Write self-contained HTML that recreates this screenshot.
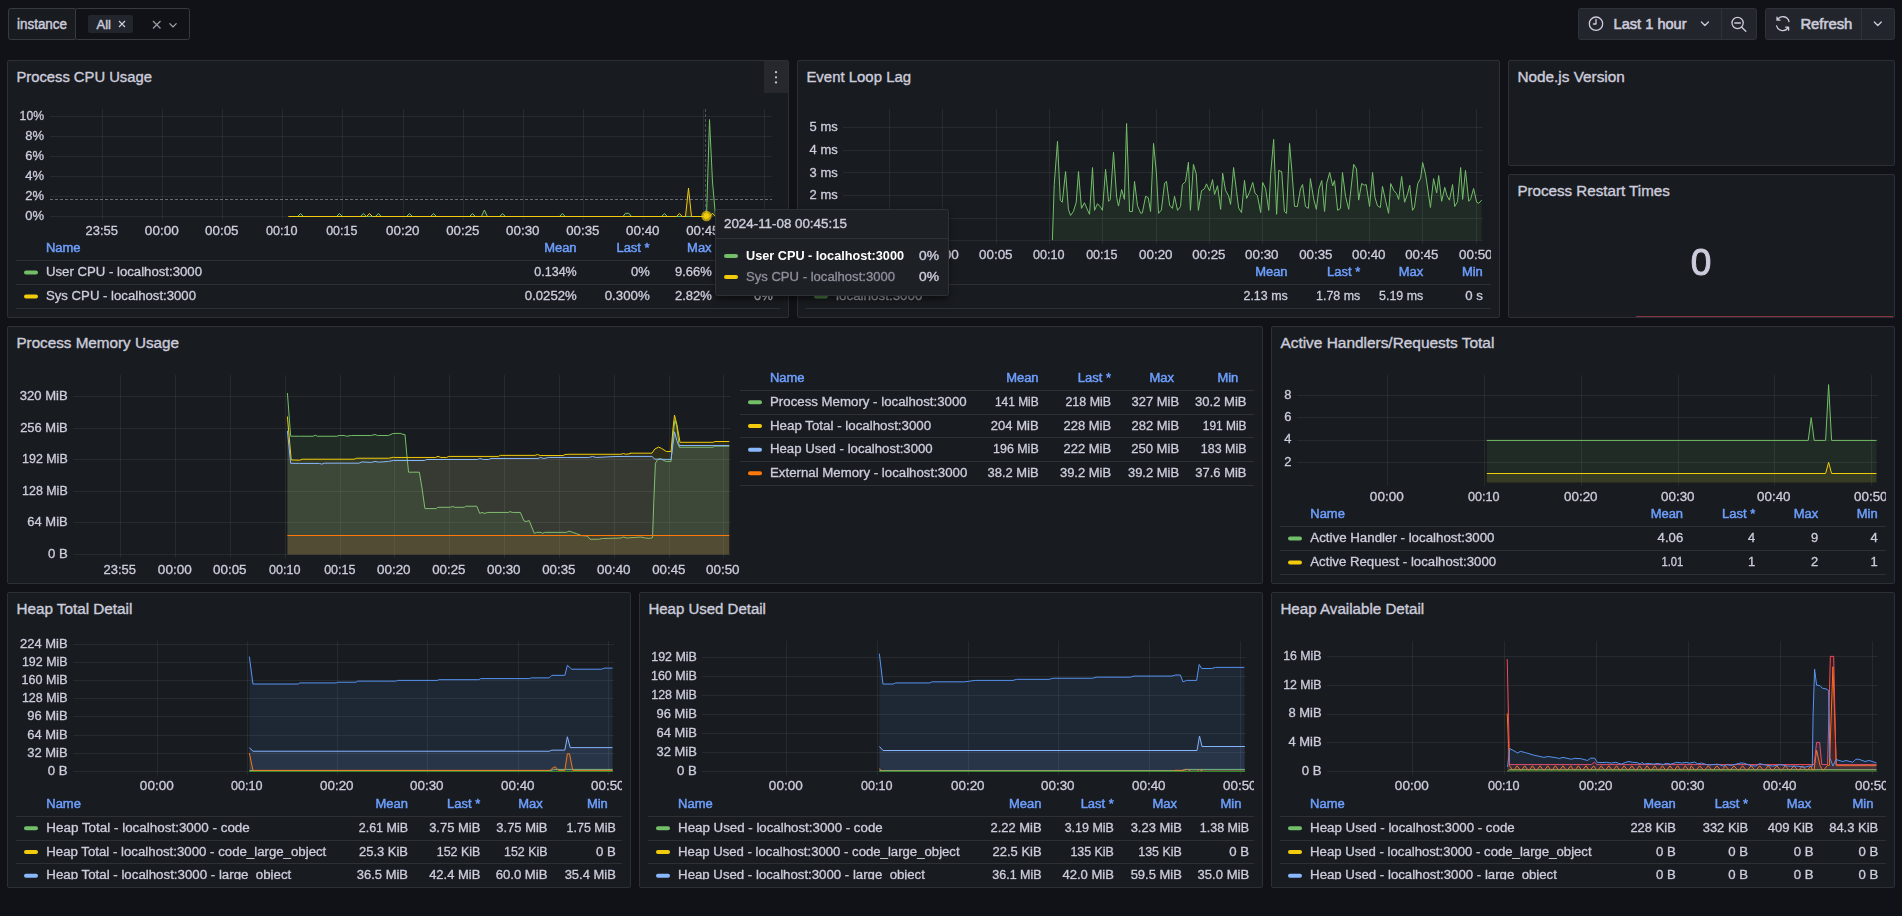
<!DOCTYPE html><html lang="en"><head><meta charset="utf-8"><title>Node.js Application Dashboard</title><style>

html,body{margin:0;padding:0;background:#111217;}
body{width:1902px;height:916px;overflow:hidden;position:relative;font-family:"Liberation Sans",sans-serif;color:#ccccdc;}
.p{position:absolute;box-sizing:border-box;background:#181b1f;border:1px solid #2c2f35;border-radius:2px;overflow:hidden;}
.p svg{position:absolute;left:-1px;top:-1px;}
svg text{font-family:"Liberation Sans",sans-serif;}
.ov{position:absolute;left:0;top:0;}
.gs{will-change:transform;}

</style></head><body>
<svg class="ov" width="1902" height="56" viewBox="0 0 1902 56"><rect x="8.5" y="8.5" width="67.5" height="31" rx="2" fill="#181b1f" stroke="#383a41"/><text x="17" y="29.2" font-size="14" fill="#ccccdc" stroke="#ccccdc" stroke-width="0.45" textLength="50" lengthAdjust="spacingAndGlyphs">instance</text><rect x="75.5" y="8.5" width="114" height="31" rx="2" fill="#111217" stroke="#383a41"/><rect x="88" y="15" width="45" height="18" rx="2" fill="#22252b"/><text x="96.5" y="28.6" font-size="12" fill="#ccccdc" stroke="#ccccdc" stroke-width="0.4" textLength="14.5" lengthAdjust="spacingAndGlyphs">All</text><path d="M119,21 l6,6 m0,-6 l-6,6" stroke="#ccccdc" stroke-width="1.2" fill="none"/><path d="M153,21 l7.5,7.5 m0,-7.5 l-7.5,7.5" stroke="#ccccdc" stroke-width="1.2" fill="none" stroke-opacity="0.75"/><path d="M169.5,23.4 l3.5,3.5 l3.5,-3.5" stroke="#ccccdc" stroke-width="1.3" fill="none" stroke-opacity="0.8"/><rect x="1578.5" y="8.5" width="178" height="31" rx="2" fill="#22252b" stroke="#2f3238"/><line x1="1721.5" x2="1721.5" y1="9" y2="39" stroke="#2f3238"/><rect x="1765.5" y="8.5" width="129" height="31" rx="2" fill="#22252b" stroke="#2f3238"/><line x1="1861.5" x2="1861.5" y1="9" y2="39" stroke="#2f3238"/><g fill="none" stroke="#ccccdc" stroke-width="1.3" stroke-linecap="round" stroke-linejoin="round"><circle cx="1596" cy="23.7" r="6.7"/><path d="M1596,19.5 v4.5 h-2.6"/><path d="M1701.4,22 l3.5,3.5 l3.5,-3.5"/><circle cx="1737.6" cy="23" r="5.6"/><path d="M1741.8,27.2 l4,4 M1734.8,23 h5.6"/><path d="M1789,21.5 a6.3,6.3 0 0 0 -11.6,-1.6 M1777,17.2 v3 h3 M1776.6,25.8 a6.3,6.3 0 0 0 11.6,1.6 M1788.6,30.2 v-3 h-3"/><path d="M1874.3,22 l3.5,3.5 l3.5,-3.5"/></g><text x="1613.6" y="28.8" font-size="14" fill="#ccccdc" stroke="#ccccdc" stroke-width="0.55" textLength="73" lengthAdjust="spacingAndGlyphs">Last 1 hour</text><text x="1800.4" y="28.8" font-size="14" fill="#ccccdc" stroke="#ccccdc" stroke-width="0.55" textLength="52" lengthAdjust="spacingAndGlyphs">Refresh</text></svg>
<div class="p" style="left:7px;top:60px;width:782px;height:258px"><svg width="782" height="36" viewBox="7 60 782 36"><text x="16.4" y="82" font-size="14" fill="#ccccdc" stroke="#ccccdc" stroke-width="0.35" textLength="135.5" lengthAdjust="spacingAndGlyphs">Process CPU Usage</text></svg><svg class="gs" width="782" height="258" viewBox="7 60 782 258"><g stroke="rgba(240,250,255,0.065)" stroke-width="1" shape-rendering="crispEdges"><line x1="50" x2="772" y1="116.5" y2="116.5"/><line x1="50" x2="772" y1="136.5" y2="136.5"/><line x1="50" x2="772" y1="156.5" y2="156.5"/><line x1="50" x2="772" y1="176.5" y2="176.5"/><line x1="50" x2="772" y1="196.5" y2="196.5"/><line x1="50" x2="772" y1="216.5" y2="216.5"/><line x1="102.5" x2="102.5" y1="109" y2="220"/><line x1="162.5" x2="162.5" y1="109" y2="220"/><line x1="222.5" x2="222.5" y1="109" y2="220"/><line x1="282.5" x2="282.5" y1="109" y2="220"/><line x1="342.5" x2="342.5" y1="109" y2="220"/><line x1="403.5" x2="403.5" y1="109" y2="220"/><line x1="463.5" x2="463.5" y1="109" y2="220"/><line x1="523.5" x2="523.5" y1="109" y2="220"/><line x1="583.5" x2="583.5" y1="109" y2="220"/><line x1="643.5" x2="643.5" y1="109" y2="220"/><line x1="703.5" x2="703.5" y1="109" y2="220"/><line x1="764.5" x2="764.5" y1="109" y2="220"/></g><path d="M288.5,216.5 L297.5,216.5 L300.5,213.5 L303.5,216.5 L336.5,216.5 L339.5,213.5 L342.5,216.5 L360.4,216.5 L363.4,213.5 L366.4,216.5 L375.4,216.5 L378.4,213.5 L381.4,216.5 L406.5,216.5 L409.5,213.5 L412.5,216.5 L430.5,216.5 L433.5,213.5 L436.5,216.5 L469.5,216.5 L472.5,213.5 L475.5,216.5 L481.4,216.5 L484.4,210 L487.4,216.5 L499.6,216.5 L502.6,213.5 L505.6,216.5 L559.4,216.5 L562.4,213.5 L565.4,216.5 L622.95,216.5 L625.45,213.3 L628.95,213.3 L631.45,216.5 L661.4,216.5 L664.4,213.5 L667.4,216.5 L706.5,216.5 L709.5,119.5 L712.5,182 L715.5,216.5 L770,216.5 L770,216.5 L288.5,216.5 Z" fill="#73bf69" fill-opacity="0.1" stroke="none"/><path d="M288.5,216.5 L297.5,216.5 L300.5,213.5 L303.5,216.5 L336.5,216.5 L339.5,213.5 L342.5,216.5 L360.4,216.5 L363.4,213.5 L366.4,216.5 L375.4,216.5 L378.4,213.5 L381.4,216.5 L406.5,216.5 L409.5,213.5 L412.5,216.5 L430.5,216.5 L433.5,213.5 L436.5,216.5 L469.5,216.5 L472.5,213.5 L475.5,216.5 L481.4,216.5 L484.4,210 L487.4,216.5 L499.6,216.5 L502.6,213.5 L505.6,216.5 L559.4,216.5 L562.4,213.5 L565.4,216.5 L622.95,216.5 L625.45,213.3 L628.95,213.3 L631.45,216.5 L661.4,216.5 L664.4,213.5 L667.4,216.5 L706.5,216.5 L709.5,119.5 L712.5,182 L715.5,216.5 L770,216.5" fill="none" stroke="#73bf69" stroke-width="1" stroke-linejoin="round"/><path d="M288.5,216.5 L366.5,216.5 L369.5,213.5 L372.5,216.5 L676.4,216.5 L679.4,213.5 L682.4,216.5 L685.5,216.5 L688.5,188.1 L691.5,216.5 L709.5,216.5 L712.5,213.2 L715.5,216.5 L770,216.5 L770,216.5 L288.5,216.5 Z" fill="#f2cc0c" fill-opacity="0.1" stroke="none"/><path d="M288.5,216.5 L366.5,216.5 L369.5,213.5 L372.5,216.5 L676.4,216.5 L679.4,213.5 L682.4,216.5 L685.5,216.5 L688.5,188.1 L691.5,216.5 L709.5,216.5 L712.5,213.2 L715.5,216.5 L770,216.5" fill="none" stroke="#f2cc0c" stroke-width="1" stroke-linejoin="round"/><g stroke="#a0a0ac" stroke-width="1" stroke-dasharray="3 2" shape-rendering="crispEdges"><line x1="705.5" x2="705.5" y1="109" y2="220" stroke-opacity="0.42"/><line x1="50" x2="772" y1="199.5" y2="199.5" stroke-opacity="0.6"/></g><circle cx="706.5" cy="216" r="5.2" fill="#f2cc0c" fill-opacity="0.7"/><circle cx="706.5" cy="216" r="3" fill="#f2cc0c"/><rect x="764" y="61" width="24" height="32" fill="#26282e"/><g fill="#ccccdc"><circle cx="776" cy="72.2" r="1.1"/><circle cx="776" cy="77.3" r="1.1"/><circle cx="776" cy="82.4" r="1.1"/></g><text x="46" y="252" font-size="12" fill="#6e9fff" stroke="#6e9fff" stroke-width="0.45" textLength="34.57" lengthAdjust="spacingAndGlyphs">Name</text><text x="576.6" y="252" font-size="12" fill="#6e9fff" text-anchor="end" stroke="#6e9fff" stroke-width="0.45" textLength="32.42" lengthAdjust="spacingAndGlyphs">Mean</text><text x="649.6" y="252" font-size="12" fill="#6e9fff" text-anchor="end" stroke="#6e9fff" stroke-width="0.45" textLength="33.14" lengthAdjust="spacingAndGlyphs">Last *</text><text x="711.6" y="252" font-size="12" fill="#6e9fff" text-anchor="end" stroke="#6e9fff" stroke-width="0.45" textLength="24.48" lengthAdjust="spacingAndGlyphs">Max</text><text x="772.6" y="252" font-size="12" fill="#6e9fff" text-anchor="end" stroke="#6e9fff" stroke-width="0.45" textLength="20.88" lengthAdjust="spacingAndGlyphs">Min</text><g stroke="rgba(204,204,220,0.12)" stroke-width="1" shape-rendering="crispEdges"><line x1="16" x2="780" y1="260.5" y2="260.5"/><line x1="16" x2="780" y1="284.5" y2="284.5"/><line x1="16" x2="780" y1="308.5" y2="308.5"/></g><rect x="24" y="270.5" width="14" height="4" rx="2" fill="#73bf69"/><text x="46" y="276" font-size="12" fill="#ccccdc" stroke="#ccccdc" stroke-width="0.3" textLength="156" lengthAdjust="spacingAndGlyphs">User CPU - localhost:3000</text><text x="576.7" y="276" font-size="12" fill="#ccccdc" text-anchor="end" stroke="#ccccdc" stroke-width="0.3" textLength="42.4" lengthAdjust="spacingAndGlyphs">0.134%</text><text x="649.7" y="276" font-size="12" fill="#ccccdc" text-anchor="end" stroke="#ccccdc" stroke-width="0.3" textLength="18.73" lengthAdjust="spacingAndGlyphs">0%</text><text x="711.7" y="276" font-size="12" fill="#ccccdc" text-anchor="end" stroke="#ccccdc" stroke-width="0.3" textLength="36.75" lengthAdjust="spacingAndGlyphs">9.66%</text><text x="772.7" y="276" font-size="12" fill="#ccccdc" text-anchor="end" stroke="#ccccdc" stroke-width="0.3" textLength="18.73" lengthAdjust="spacingAndGlyphs">0%</text><rect x="24" y="294.5" width="14" height="4" rx="2" fill="#f2cc0c"/><text x="46" y="300" font-size="12" fill="#ccccdc" stroke="#ccccdc" stroke-width="0.3" textLength="150" lengthAdjust="spacingAndGlyphs">Sys CPU - localhost:3000</text><text x="576.7" y="300" font-size="12" fill="#ccccdc" text-anchor="end" stroke="#ccccdc" stroke-width="0.3" textLength="51.86" lengthAdjust="spacingAndGlyphs">0.0252%</text><text x="649.7" y="300" font-size="12" fill="#ccccdc" text-anchor="end" stroke="#ccccdc" stroke-width="0.3" textLength="45" lengthAdjust="spacingAndGlyphs">0.300%</text><text x="711.7" y="300" font-size="12" fill="#ccccdc" text-anchor="end" stroke="#ccccdc" stroke-width="0.3" textLength="36.75" lengthAdjust="spacingAndGlyphs">2.82%</text><text x="772.7" y="300" font-size="12" fill="#ccccdc" text-anchor="end" stroke="#ccccdc" stroke-width="0.3" textLength="18.73" lengthAdjust="spacingAndGlyphs">0%</text></svg><svg class="gs" width="773" height="258" viewBox="7 60 773 258"><text x="44" y="119.9" font-size="12" fill="#ccccdc" text-anchor="end" stroke="#ccccdc" stroke-width="0.3" textLength="24.39" lengthAdjust="spacingAndGlyphs">10%</text><text x="44" y="139.9" font-size="12" fill="#ccccdc" text-anchor="end" stroke="#ccccdc" stroke-width="0.3" textLength="18.73" lengthAdjust="spacingAndGlyphs">8%</text><text x="44" y="159.9" font-size="12" fill="#ccccdc" text-anchor="end" stroke="#ccccdc" stroke-width="0.3" textLength="18.73" lengthAdjust="spacingAndGlyphs">6%</text><text x="44" y="179.9" font-size="12" fill="#ccccdc" text-anchor="end" stroke="#ccccdc" stroke-width="0.3" textLength="18.73" lengthAdjust="spacingAndGlyphs">4%</text><text x="44" y="199.9" font-size="12" fill="#ccccdc" text-anchor="end" stroke="#ccccdc" stroke-width="0.3" textLength="18.73" lengthAdjust="spacingAndGlyphs">2%</text><text x="44" y="219.9" font-size="12" fill="#ccccdc" text-anchor="end" stroke="#ccccdc" stroke-width="0.3" textLength="18.73" lengthAdjust="spacingAndGlyphs">0%</text><text x="101.8" y="235" font-size="12" fill="#ccccdc" text-anchor="middle" stroke="#ccccdc" stroke-width="0.3" textLength="32.43" lengthAdjust="spacingAndGlyphs">23:55</text><text x="161.8" y="235" font-size="12" fill="#ccccdc" text-anchor="middle" stroke="#ccccdc" stroke-width="0.3" textLength="33.83" lengthAdjust="spacingAndGlyphs">00:00</text><text x="221.8" y="235" font-size="12" fill="#ccccdc" text-anchor="middle" stroke="#ccccdc" stroke-width="0.3" textLength="33.48" lengthAdjust="spacingAndGlyphs">00:05</text><text x="281.8" y="235" font-size="12" fill="#ccccdc" text-anchor="middle" stroke="#ccccdc" stroke-width="0.3" textLength="31.58" lengthAdjust="spacingAndGlyphs">00:10</text><text x="341.8" y="235" font-size="12" fill="#ccccdc" text-anchor="middle" stroke="#ccccdc" stroke-width="0.3" textLength="31.23" lengthAdjust="spacingAndGlyphs">00:15</text><text x="402.8" y="235" font-size="12" fill="#ccccdc" text-anchor="middle" stroke="#ccccdc" stroke-width="0.3" textLength="33.48" lengthAdjust="spacingAndGlyphs">00:20</text><text x="462.8" y="235" font-size="12" fill="#ccccdc" text-anchor="middle" stroke="#ccccdc" stroke-width="0.3" textLength="33.13" lengthAdjust="spacingAndGlyphs">00:25</text><text x="522.8" y="235" font-size="12" fill="#ccccdc" text-anchor="middle" stroke="#ccccdc" stroke-width="0.3" textLength="33.48" lengthAdjust="spacingAndGlyphs">00:30</text><text x="582.8" y="235" font-size="12" fill="#ccccdc" text-anchor="middle" stroke="#ccccdc" stroke-width="0.3" textLength="33.13" lengthAdjust="spacingAndGlyphs">00:35</text><text x="642.8" y="235" font-size="12" fill="#ccccdc" text-anchor="middle" stroke="#ccccdc" stroke-width="0.3" textLength="33.48" lengthAdjust="spacingAndGlyphs">00:40</text><text x="702.8" y="235" font-size="12" fill="#ccccdc" text-anchor="middle" stroke="#ccccdc" stroke-width="0.3" textLength="33.13" lengthAdjust="spacingAndGlyphs">00:45</text><text x="763.8" y="235" font-size="12" fill="#ccccdc" text-anchor="middle" stroke="#ccccdc" stroke-width="0.3" textLength="33.48" lengthAdjust="spacingAndGlyphs">00:50</text></svg></div>
<div class="p" style="left:797px;top:60px;width:703px;height:258px"><svg width="703" height="36" viewBox="797 60 703 36"><text x="806.4" y="82" font-size="14" fill="#ccccdc" stroke="#ccccdc" stroke-width="0.35" textLength="104.7" lengthAdjust="spacingAndGlyphs">Event Loop Lag</text></svg><svg class="gs" width="703" height="258" viewBox="797 60 703 258"><g stroke="rgba(240,250,255,0.065)" stroke-width="1" shape-rendering="crispEdges"><line x1="843" x2="1483" y1="240.5" y2="240.5"/><line x1="843" x2="1483" y1="218.5" y2="218.5"/><line x1="843" x2="1483" y1="195.5" y2="195.5"/><line x1="843" x2="1483" y1="172.5" y2="172.5"/><line x1="843" x2="1483" y1="150.5" y2="150.5"/><line x1="843" x2="1483" y1="127.5" y2="127.5"/><line x1="889.5" x2="889.5" y1="109" y2="244"/><line x1="942.5" x2="942.5" y1="109" y2="244"/><line x1="996.5" x2="996.5" y1="109" y2="244"/><line x1="1049.5" x2="1049.5" y1="109" y2="244"/><line x1="1102.5" x2="1102.5" y1="109" y2="244"/><line x1="1156.5" x2="1156.5" y1="109" y2="244"/><line x1="1209.5" x2="1209.5" y1="109" y2="244"/><line x1="1262.5" x2="1262.5" y1="109" y2="244"/><line x1="1316.5" x2="1316.5" y1="109" y2="244"/><line x1="1369.5" x2="1369.5" y1="109" y2="244"/><line x1="1422.5" x2="1422.5" y1="109" y2="244"/><line x1="1476.5" x2="1476.5" y1="109" y2="244"/></g><g clip-path="url(#c2)"><clipPath id="c2"><rect x="797" y="60" width="694" height="258"/></clipPath></g><path d="M1052.38,240.14 L1054.22,184.52 L1057.49,141.25 L1060.32,200.13 L1062.31,202.26 L1065.57,171.47 L1068.41,209.36 L1070.54,215.46 L1073.38,211.48 L1076.22,202.26 L1078.49,171.47 L1081.47,208.36 L1084.44,202.69 L1087.57,210.06 L1089.55,214.32 L1092.53,167.5 L1094.52,210.35 L1097.5,203.68 L1100.62,207.23 L1102.46,210.35 L1105.59,169.34 L1108.57,201.27 L1110.27,199.42 L1113.53,152.32 L1116.65,197.29 L1118.5,206.09 L1121.62,189.49 L1124.46,199.42 L1126.59,123.51 L1129.57,211.48 L1132.4,211.48 L1134.53,181.4 L1137.51,205.81 L1140.77,213.33 L1142.33,212.9 L1145.6,196.3 L1148.29,197.72 L1150.56,211.48 L1153.54,143.38 L1156.38,172.46 L1158.51,213.33 L1161.35,210.06 L1164.61,183.11 L1166.46,181.4 L1169.58,205.1 L1172.42,208.36 L1174.54,196.3 L1177.52,210.35 L1180.5,206.52 L1182.35,184.52 L1185.47,181.69 L1188.45,162.25 L1190.43,210.35 L1193.41,164.38 L1196.25,173.88 L1198.38,210.35 L1201.5,190.63 L1204.48,188.78 L1206.47,183.82 L1209.59,190.91 L1212.57,179.56 L1214.56,194.46 L1217.54,185.66 L1220.66,209.36 L1222.64,173.17 L1225.48,190.2 L1228.6,195.88 L1230.59,204.39 L1233.57,167.5 L1236.55,191.62 L1238.68,207.94 L1241.51,212.62 L1244.49,180.27 L1246.62,198.43 L1249.46,192.33 L1252.72,182.4 L1254.99,193.04 L1257.41,195.59 L1260.67,212.62 L1262.66,182.4 L1265.64,188.78 L1268.76,210.35 L1270.6,174.59 L1273.66,139.4 L1276.63,214.32 L1278.76,170.34 L1281.74,171.76 L1284.44,211.48 L1286.57,213.33 L1289.55,143.38 L1291.96,171.76 L1294.51,206.23 L1297.35,206.52 L1300.47,188.78 L1302.6,184.52 L1305.44,206.52 L1308.42,208.36 L1310.4,178.57 L1313.67,198.71 L1316.36,209.36 L1318.92,188.78 L1321.76,180.55 L1324.59,211.48 L1326.72,183.11 L1329.7,172.46 L1332.68,185.94 L1334.52,180.55 L1337.65,210.35 L1340.48,208.36 L1342.47,172.46 L1345.59,196.59 L1348.71,209.36 L1350.84,190.2 L1353.68,164.38 L1356.52,168.92 L1358.65,200.13 L1361.63,183.53 L1364.32,185.23 L1366.17,184.52 L1369.57,206.52 L1372.55,172.46 L1374.96,197.29 L1377.52,205.81 L1380.35,207.51 L1382.48,186.37 L1385.6,200.84 L1388.58,213.33 L1390.71,183.53 L1393.69,190.2 L1396.67,193.75 L1398.66,199.42 L1401.64,176.44 L1404.62,202.26 L1407.6,193.75 L1409.73,185.23 L1412.56,210.35 L1414.41,207.23 L1417.67,183.82 L1420.65,178.14 L1422.64,162.53 L1425.62,174.59 L1430.44,207.51 L1433.56,178.57 L1436.68,193.04 L1438.67,175.59 L1441.65,201.27 L1444.77,187.36 L1447.04,195.88 L1449.45,200.13 L1452.58,184.52 L1454.7,206.52 L1457.54,201.55 L1460.66,167.5 L1462.65,199.42 L1465.49,170.34 L1468.75,201.27 L1470.74,198.71 L1473.57,188.5 L1476.7,202.26 L1478.68,203.25 L1481.66,200.13 L1481.66,240.5 L1052.38,240.5 Z" fill="#73bf69" fill-opacity="0.1" stroke="none"/><path d="M1052.38,240.14 L1054.22,184.52 L1057.49,141.25 L1060.32,200.13 L1062.31,202.26 L1065.57,171.47 L1068.41,209.36 L1070.54,215.46 L1073.38,211.48 L1076.22,202.26 L1078.49,171.47 L1081.47,208.36 L1084.44,202.69 L1087.57,210.06 L1089.55,214.32 L1092.53,167.5 L1094.52,210.35 L1097.5,203.68 L1100.62,207.23 L1102.46,210.35 L1105.59,169.34 L1108.57,201.27 L1110.27,199.42 L1113.53,152.32 L1116.65,197.29 L1118.5,206.09 L1121.62,189.49 L1124.46,199.42 L1126.59,123.51 L1129.57,211.48 L1132.4,211.48 L1134.53,181.4 L1137.51,205.81 L1140.77,213.33 L1142.33,212.9 L1145.6,196.3 L1148.29,197.72 L1150.56,211.48 L1153.54,143.38 L1156.38,172.46 L1158.51,213.33 L1161.35,210.06 L1164.61,183.11 L1166.46,181.4 L1169.58,205.1 L1172.42,208.36 L1174.54,196.3 L1177.52,210.35 L1180.5,206.52 L1182.35,184.52 L1185.47,181.69 L1188.45,162.25 L1190.43,210.35 L1193.41,164.38 L1196.25,173.88 L1198.38,210.35 L1201.5,190.63 L1204.48,188.78 L1206.47,183.82 L1209.59,190.91 L1212.57,179.56 L1214.56,194.46 L1217.54,185.66 L1220.66,209.36 L1222.64,173.17 L1225.48,190.2 L1228.6,195.88 L1230.59,204.39 L1233.57,167.5 L1236.55,191.62 L1238.68,207.94 L1241.51,212.62 L1244.49,180.27 L1246.62,198.43 L1249.46,192.33 L1252.72,182.4 L1254.99,193.04 L1257.41,195.59 L1260.67,212.62 L1262.66,182.4 L1265.64,188.78 L1268.76,210.35 L1270.6,174.59 L1273.66,139.4 L1276.63,214.32 L1278.76,170.34 L1281.74,171.76 L1284.44,211.48 L1286.57,213.33 L1289.55,143.38 L1291.96,171.76 L1294.51,206.23 L1297.35,206.52 L1300.47,188.78 L1302.6,184.52 L1305.44,206.52 L1308.42,208.36 L1310.4,178.57 L1313.67,198.71 L1316.36,209.36 L1318.92,188.78 L1321.76,180.55 L1324.59,211.48 L1326.72,183.11 L1329.7,172.46 L1332.68,185.94 L1334.52,180.55 L1337.65,210.35 L1340.48,208.36 L1342.47,172.46 L1345.59,196.59 L1348.71,209.36 L1350.84,190.2 L1353.68,164.38 L1356.52,168.92 L1358.65,200.13 L1361.63,183.53 L1364.32,185.23 L1366.17,184.52 L1369.57,206.52 L1372.55,172.46 L1374.96,197.29 L1377.52,205.81 L1380.35,207.51 L1382.48,186.37 L1385.6,200.84 L1388.58,213.33 L1390.71,183.53 L1393.69,190.2 L1396.67,193.75 L1398.66,199.42 L1401.64,176.44 L1404.62,202.26 L1407.6,193.75 L1409.73,185.23 L1412.56,210.35 L1414.41,207.23 L1417.67,183.82 L1420.65,178.14 L1422.64,162.53 L1425.62,174.59 L1430.44,207.51 L1433.56,178.57 L1436.68,193.04 L1438.67,175.59 L1441.65,201.27 L1444.77,187.36 L1447.04,195.88 L1449.45,200.13 L1452.58,184.52 L1454.7,206.52 L1457.54,201.55 L1460.66,167.5 L1462.65,199.42 L1465.49,170.34 L1468.75,201.27 L1470.74,198.71 L1473.57,188.5 L1476.7,202.26 L1478.68,203.25 L1481.66,200.13" fill="none" stroke="#73bf69" stroke-width="1" stroke-linejoin="round"/><text x="836" y="276" font-size="12" fill="#6e9fff" stroke="#6e9fff" stroke-width="0.45" textLength="34.57" lengthAdjust="spacingAndGlyphs">Name</text><text x="1287.6" y="276" font-size="12" fill="#6e9fff" text-anchor="end" stroke="#6e9fff" stroke-width="0.45" textLength="32.42" lengthAdjust="spacingAndGlyphs">Mean</text><text x="1360.2" y="276" font-size="12" fill="#6e9fff" text-anchor="end" stroke="#6e9fff" stroke-width="0.45" textLength="33.14" lengthAdjust="spacingAndGlyphs">Last *</text><text x="1423.2" y="276" font-size="12" fill="#6e9fff" text-anchor="end" stroke="#6e9fff" stroke-width="0.45" textLength="24.48" lengthAdjust="spacingAndGlyphs">Max</text><text x="1482.8" y="276" font-size="12" fill="#6e9fff" text-anchor="end" stroke="#6e9fff" stroke-width="0.45" textLength="20.88" lengthAdjust="spacingAndGlyphs">Min</text><g stroke="rgba(204,204,220,0.12)" stroke-width="1" shape-rendering="crispEdges"><line x1="806" x2="1491" y1="284.5" y2="284.5"/><line x1="806" x2="1491" y1="308.5" y2="308.5"/></g><rect x="814" y="294.5" width="14" height="4" rx="2" fill="#4e8048"/><text x="836" y="300" font-size="12" fill="#9a9aa8" stroke="#9a9aa8" stroke-width="0.3" textLength="86.5" lengthAdjust="spacingAndGlyphs">localhost:3000</text><text x="1287.7" y="300" font-size="12" fill="#ccccdc" text-anchor="end" stroke="#ccccdc" stroke-width="0.3" textLength="44.2" lengthAdjust="spacingAndGlyphs">2.13 ms</text><text x="1360.3" y="300" font-size="12" fill="#ccccdc" text-anchor="end" stroke="#ccccdc" stroke-width="0.3" textLength="44.2" lengthAdjust="spacingAndGlyphs">1.78 ms</text><text x="1423.3" y="300" font-size="12" fill="#ccccdc" text-anchor="end" stroke="#ccccdc" stroke-width="0.3" textLength="44.2" lengthAdjust="spacingAndGlyphs">5.19 ms</text><text x="1482.9" y="300" font-size="12" fill="#ccccdc" text-anchor="end" stroke="#ccccdc" stroke-width="0.3" textLength="17.64" lengthAdjust="spacingAndGlyphs">0 s</text></svg><svg class="gs" width="694" height="258" viewBox="797 60 694 258"><text x="837.7" y="244.73" font-size="12" fill="#ccccdc" text-anchor="end" stroke="#ccccdc" stroke-width="0.3" textLength="17.64" lengthAdjust="spacingAndGlyphs">0 s</text><text x="837.7" y="222.06" font-size="12" fill="#ccccdc" text-anchor="end" stroke="#ccccdc" stroke-width="0.3" textLength="26.19" lengthAdjust="spacingAndGlyphs">1 ms</text><text x="837.7" y="199.4" font-size="12" fill="#ccccdc" text-anchor="end" stroke="#ccccdc" stroke-width="0.3" textLength="28.09" lengthAdjust="spacingAndGlyphs">2 ms</text><text x="837.7" y="176.73" font-size="12" fill="#ccccdc" text-anchor="end" stroke="#ccccdc" stroke-width="0.3" textLength="28.09" lengthAdjust="spacingAndGlyphs">3 ms</text><text x="837.7" y="154.06" font-size="12" fill="#ccccdc" text-anchor="end" stroke="#ccccdc" stroke-width="0.3" textLength="28.09" lengthAdjust="spacingAndGlyphs">4 ms</text><text x="837.7" y="131.4" font-size="12" fill="#ccccdc" text-anchor="end" stroke="#ccccdc" stroke-width="0.3" textLength="28.09" lengthAdjust="spacingAndGlyphs">5 ms</text><text x="888.8" y="259.2" font-size="12" fill="#ccccdc" text-anchor="middle" stroke="#ccccdc" stroke-width="0.3" textLength="32.43" lengthAdjust="spacingAndGlyphs">23:55</text><text x="941.8" y="259.2" font-size="12" fill="#ccccdc" text-anchor="middle" stroke="#ccccdc" stroke-width="0.3" textLength="33.83" lengthAdjust="spacingAndGlyphs">00:00</text><text x="995.8" y="259.2" font-size="12" fill="#ccccdc" text-anchor="middle" stroke="#ccccdc" stroke-width="0.3" textLength="33.48" lengthAdjust="spacingAndGlyphs">00:05</text><text x="1048.8" y="259.2" font-size="12" fill="#ccccdc" text-anchor="middle" stroke="#ccccdc" stroke-width="0.3" textLength="31.58" lengthAdjust="spacingAndGlyphs">00:10</text><text x="1101.8" y="259.2" font-size="12" fill="#ccccdc" text-anchor="middle" stroke="#ccccdc" stroke-width="0.3" textLength="31.23" lengthAdjust="spacingAndGlyphs">00:15</text><text x="1155.8" y="259.2" font-size="12" fill="#ccccdc" text-anchor="middle" stroke="#ccccdc" stroke-width="0.3" textLength="33.48" lengthAdjust="spacingAndGlyphs">00:20</text><text x="1208.8" y="259.2" font-size="12" fill="#ccccdc" text-anchor="middle" stroke="#ccccdc" stroke-width="0.3" textLength="33.13" lengthAdjust="spacingAndGlyphs">00:25</text><text x="1261.8" y="259.2" font-size="12" fill="#ccccdc" text-anchor="middle" stroke="#ccccdc" stroke-width="0.3" textLength="33.48" lengthAdjust="spacingAndGlyphs">00:30</text><text x="1315.8" y="259.2" font-size="12" fill="#ccccdc" text-anchor="middle" stroke="#ccccdc" stroke-width="0.3" textLength="33.13" lengthAdjust="spacingAndGlyphs">00:35</text><text x="1368.8" y="259.2" font-size="12" fill="#ccccdc" text-anchor="middle" stroke="#ccccdc" stroke-width="0.3" textLength="33.48" lengthAdjust="spacingAndGlyphs">00:40</text><text x="1421.8" y="259.2" font-size="12" fill="#ccccdc" text-anchor="middle" stroke="#ccccdc" stroke-width="0.3" textLength="33.13" lengthAdjust="spacingAndGlyphs">00:45</text><text x="1475.8" y="259.2" font-size="12" fill="#ccccdc" text-anchor="middle" stroke="#ccccdc" stroke-width="0.3" textLength="33.48" lengthAdjust="spacingAndGlyphs">00:50</text></svg></div>
<div class="p" style="left:1508px;top:60px;width:387px;height:106px"><svg width="387" height="36" viewBox="1508 60 387 36"><text x="1517.4" y="82" font-size="14" fill="#ccccdc" stroke="#ccccdc" stroke-width="0.35" textLength="107.4" lengthAdjust="spacingAndGlyphs">Node.js Version</text></svg><svg class="gs" width="387" height="106" viewBox="1508 60 387 106"></svg></div>
<div class="p" style="left:1508px;top:174px;width:387px;height:144px"><svg width="387" height="36" viewBox="1508 174 387 36"><text x="1517.4" y="196" font-size="14" fill="#ccccdc" stroke="#ccccdc" stroke-width="0.35" textLength="152.4" lengthAdjust="spacingAndGlyphs">Process Restart Times</text></svg><svg class="gs" width="387" height="144" viewBox="1508 174 387 144"><text x="1701" y="275.2" font-size="37" fill="#ccccdc" text-anchor="middle" stroke="#ccccdc" stroke-width="1.0" textLength="20.58" lengthAdjust="spacingAndGlyphs">0</text><line x1="1636" x2="1893" y1="316.5" y2="316.5" stroke="#f2495c" stroke-opacity="0.5" stroke-width="1" shape-rendering="crispEdges"/></svg></div>
<div class="p" style="left:7px;top:326px;width:1256px;height:258px"><svg width="1256" height="36" viewBox="7 326 1256 36"><text x="16.4" y="348" font-size="14" fill="#ccccdc" stroke="#ccccdc" stroke-width="0.35" textLength="162.6" lengthAdjust="spacingAndGlyphs">Process Memory Usage</text></svg><svg class="gs" width="1256" height="258" viewBox="7 326 1256 258"><g stroke="rgba(240,250,255,0.065)" stroke-width="1" shape-rendering="crispEdges"><line x1="73" x2="731" y1="554.5" y2="554.5"/><line x1="73" x2="731" y1="522.5" y2="522.5"/><line x1="73" x2="731" y1="491.5" y2="491.5"/><line x1="73" x2="731" y1="459.5" y2="459.5"/><line x1="73" x2="731" y1="428.5" y2="428.5"/><line x1="73" x2="731" y1="396.5" y2="396.5"/><line x1="120.5" x2="120.5" y1="375.3" y2="558"/><line x1="175.5" x2="175.5" y1="375.3" y2="558"/><line x1="230.5" x2="230.5" y1="375.3" y2="558"/><line x1="285.5" x2="285.5" y1="375.3" y2="558"/><line x1="340.5" x2="340.5" y1="375.3" y2="558"/><line x1="394.5" x2="394.5" y1="375.3" y2="558"/><line x1="449.5" x2="449.5" y1="375.3" y2="558"/><line x1="504.5" x2="504.5" y1="375.3" y2="558"/><line x1="559.5" x2="559.5" y1="375.3" y2="558"/><line x1="614.5" x2="614.5" y1="375.3" y2="558"/><line x1="669.5" x2="669.5" y1="375.3" y2="558"/><line x1="723.5" x2="723.5" y1="375.3" y2="558"/></g><path d="M287.4,393 L290.7,436.2 L299.65,436.23 L313.24,436.23 L315.22,435.24 L317.44,436.23 L336.72,436.23 L339.19,435.48 L344.13,435.48 L346.6,436.23 L351.55,435.48 L371.31,435.48 L375.02,434.5 L377.49,435.48 L388.61,435.48 L392.32,433.75 L395,433.4 L400.9,433.4 L402.08,434.14 L405.03,434.58 L406.8,454.49 L408.56,472.18 L419.33,472.18 L421.83,486.93 L424.93,508.6 L436.28,508.6 L437.76,507.27 L450.29,507.27 L452.5,506.39 L454.71,507.27 L464.3,507.27 L465.77,506.24 L476.83,506.24 L479.78,513.46 L481.99,512.43 L484.94,513.46 L487.15,512.43 L508.53,512.43 L510,511.55 L512.22,512.43 L520.33,512.43 L524.01,520.84 L526.22,521.57 L529.17,520.54 L534.33,533.37 L536.54,532.34 L540.97,532.34 L542.44,533.37 L544.65,532.34 L565,532.34 L566.53,532.35 L569,531.11 L572.71,532.35 L576.41,533.59 L581.36,535.56 L587.53,536.06 L590.01,539.27 L598.65,539.27 L602.36,538.53 L620.89,538.03 L623.36,537.05 L627.07,538.03 L640.66,537.05 L645.6,538.03 L649.1,538.35 L652.53,537.78 L653.87,499.58 L655.4,463.3 L657.69,459.48 L660.56,458.52 L663.42,460.43 L666.28,461.39 L671.06,461.39 L672.97,436.56 L674.88,420.33 L676.79,426.06 L679.27,447.26 L713.07,447.26 L714.98,446.11 L729.31,446.11 L729.31,554.5 L287.4,554.5 Z" fill="#73bf69" fill-opacity="0.1" stroke="none"/><path d="M287.4,393 L290.7,436.2 L299.65,436.23 L313.24,436.23 L315.22,435.24 L317.44,436.23 L336.72,436.23 L339.19,435.48 L344.13,435.48 L346.6,436.23 L351.55,435.48 L371.31,435.48 L375.02,434.5 L377.49,435.48 L388.61,435.48 L392.32,433.75 L395,433.4 L400.9,433.4 L402.08,434.14 L405.03,434.58 L406.8,454.49 L408.56,472.18 L419.33,472.18 L421.83,486.93 L424.93,508.6 L436.28,508.6 L437.76,507.27 L450.29,507.27 L452.5,506.39 L454.71,507.27 L464.3,507.27 L465.77,506.24 L476.83,506.24 L479.78,513.46 L481.99,512.43 L484.94,513.46 L487.15,512.43 L508.53,512.43 L510,511.55 L512.22,512.43 L520.33,512.43 L524.01,520.84 L526.22,521.57 L529.17,520.54 L534.33,533.37 L536.54,532.34 L540.97,532.34 L542.44,533.37 L544.65,532.34 L565,532.34 L566.53,532.35 L569,531.11 L572.71,532.35 L576.41,533.59 L581.36,535.56 L587.53,536.06 L590.01,539.27 L598.65,539.27 L602.36,538.53 L620.89,538.03 L623.36,537.05 L627.07,538.03 L640.66,537.05 L645.6,538.03 L649.1,538.35 L652.53,537.78 L653.87,499.58 L655.4,463.3 L657.69,459.48 L660.56,458.52 L663.42,460.43 L666.28,461.39 L671.06,461.39 L672.97,436.56 L674.88,420.33 L676.79,426.06 L679.27,447.26 L713.07,447.26 L714.98,446.11 L729.31,446.11" fill="none" stroke="#73bf69" stroke-width="1" stroke-linejoin="round"/><path d="M287.4,416.5 L291.2,459.9 L299.65,460.19 L302.12,459.21 L354.02,459.21 L356.49,458.22 L388.61,458.22 L393.55,457.23 L395,457.44 L435.55,457.44 L438.05,456.26 L440.71,457.44 L446.6,457.44 L448.82,456.41 L498.21,456.41 L500.42,455.37 L535.07,455.37 L537.28,454.49 L540.23,455.52 L563.08,455.52 L565,454.49 L569,454.26 L620.89,454.26 L623.36,453.52 L625.84,454.26 L630.78,453.52 L630,453.18 L651.96,453.18 L654.83,448.98 L658.65,447.07 L661.51,448.4 L666.28,451.46 L671.06,451.46 L672.97,428.92 L674.5,415.17 L676.79,424.15 L680.03,442.29 L713.07,442.29 L714.98,441.53 L729.31,441.53 L729.31,554.5 L287.4,554.5 Z" fill="#f2cc0c" fill-opacity="0.1" stroke="none"/><path d="M287.4,416.5 L291.2,459.9 L299.65,460.19 L302.12,459.21 L354.02,459.21 L356.49,458.22 L388.61,458.22 L393.55,457.23 L395,457.44 L435.55,457.44 L438.05,456.26 L440.71,457.44 L446.6,457.44 L448.82,456.41 L498.21,456.41 L500.42,455.37 L535.07,455.37 L537.28,454.49 L540.23,455.52 L563.08,455.52 L565,454.49 L569,454.26 L620.89,454.26 L623.36,453.52 L625.84,454.26 L630.78,453.52 L630,453.18 L651.96,453.18 L654.83,448.98 L658.65,447.07 L661.51,448.4 L666.28,451.46 L671.06,451.46 L672.97,428.92 L674.5,415.17 L676.79,424.15 L680.03,442.29 L713.07,442.29 L714.98,441.53 L729.31,441.53" fill="none" stroke="#f2cc0c" stroke-width="1" stroke-linejoin="round"/><path d="M287.4,430.8 L290.7,463.3 L299.65,463.41 L319.42,463.41 L321.89,464.15 L324.36,463.16 L358.96,463.16 L361.92,461.92 L371.31,462.42 L375.02,461.43 L378.73,462.17 L388.61,461.43 L393.55,460.44 L395,460.53 L424.49,460.53 L426.7,459.5 L477.57,459.5 L479.78,458.47 L483.46,459.5 L488.63,459.5 L490.84,458.47 L538.02,458.47 L540.23,457.44 L543.92,458.47 L548.34,457.44 L565,457.44 L566.53,457.48 L588.77,457.48 L592.48,456.49 L596.18,457.48 L615.95,456.49 L630,456.42 L651.96,456.42 L654.83,459.1 L671.06,459.48 L672.97,444.2 L674.5,431.79 L676.79,440.38 L678.7,445.54 L729.31,445.54 L729.31,554.5 L287.4,554.5 Z" fill="#8ab8ff" fill-opacity="0.1" stroke="none"/><path d="M287.4,430.8 L290.7,463.3 L299.65,463.41 L319.42,463.41 L321.89,464.15 L324.36,463.16 L358.96,463.16 L361.92,461.92 L371.31,462.42 L375.02,461.43 L378.73,462.17 L388.61,461.43 L393.55,460.44 L395,460.53 L424.49,460.53 L426.7,459.5 L477.57,459.5 L479.78,458.47 L483.46,459.5 L488.63,459.5 L490.84,458.47 L538.02,458.47 L540.23,457.44 L543.92,458.47 L548.34,457.44 L565,457.44 L566.53,457.48 L588.77,457.48 L592.48,456.49 L596.18,457.48 L615.95,456.49 L630,456.42 L651.96,456.42 L654.83,459.1 L671.06,459.48 L672.97,444.2 L674.5,431.79 L676.79,440.38 L678.7,445.54 L729.31,445.54" fill="none" stroke="#8ab8ff" stroke-width="1" stroke-linejoin="round"/><path d="M287.4,535.5 L729.3,535.5 L729.3,554.5 L287.4,554.5 Z" fill="#ff780a" fill-opacity="0.1" stroke="none"/><path d="M287.4,535.5 L729.3,535.5" fill="none" stroke="#ff780a" stroke-width="1" stroke-linejoin="round"/><text x="770" y="382" font-size="12" fill="#6e9fff" stroke="#6e9fff" stroke-width="0.45" textLength="34.57" lengthAdjust="spacingAndGlyphs">Name</text><text x="1038.6" y="382" font-size="12" fill="#6e9fff" text-anchor="end" stroke="#6e9fff" stroke-width="0.45" textLength="32.42" lengthAdjust="spacingAndGlyphs">Mean</text><text x="1111" y="382" font-size="12" fill="#6e9fff" text-anchor="end" stroke="#6e9fff" stroke-width="0.45" textLength="33.14" lengthAdjust="spacingAndGlyphs">Last *</text><text x="1174" y="382" font-size="12" fill="#6e9fff" text-anchor="end" stroke="#6e9fff" stroke-width="0.45" textLength="24.48" lengthAdjust="spacingAndGlyphs">Max</text><text x="1238.3" y="382" font-size="12" fill="#6e9fff" text-anchor="end" stroke="#6e9fff" stroke-width="0.45" textLength="20.88" lengthAdjust="spacingAndGlyphs">Min</text><g stroke="rgba(204,204,220,0.12)" stroke-width="1" shape-rendering="crispEdges"><line x1="740" x2="1254" y1="390.5" y2="390.5"/><line x1="740" x2="1254" y1="414.2" y2="414.2"/><line x1="740" x2="1254" y1="437.8" y2="437.8"/><line x1="740" x2="1254" y1="461.5" y2="461.5"/><line x1="740" x2="1254" y1="485.2" y2="485.2"/></g><rect x="748" y="400.35" width="14" height="4" rx="2" fill="#73bf69"/><text x="770" y="405.85" font-size="12" fill="#ccccdc" stroke="#ccccdc" stroke-width="0.3" textLength="196.7" lengthAdjust="spacingAndGlyphs">Process Memory - localhost:3000</text><text x="1038.7" y="405.85" font-size="12" fill="#ccccdc" text-anchor="end" stroke="#ccccdc" stroke-width="0.3" textLength="43.74" lengthAdjust="spacingAndGlyphs">141 MiB</text><text x="1111.1" y="405.85" font-size="12" fill="#ccccdc" text-anchor="end" stroke="#ccccdc" stroke-width="0.3" textLength="45.64" lengthAdjust="spacingAndGlyphs">218 MiB</text><text x="1179.1" y="405.85" font-size="12" fill="#ccccdc" text-anchor="end" stroke="#ccccdc" stroke-width="0.3" textLength="47.54" lengthAdjust="spacingAndGlyphs">327 MiB</text><text x="1246.5" y="405.85" font-size="12" fill="#ccccdc" text-anchor="end" stroke="#ccccdc" stroke-width="0.3" textLength="51.49" lengthAdjust="spacingAndGlyphs">30.2 MiB</text><rect x="748" y="424" width="14" height="4" rx="2" fill="#f2cc0c"/><text x="770" y="429.5" font-size="12" fill="#ccccdc" stroke="#ccccdc" stroke-width="0.3" textLength="161.2" lengthAdjust="spacingAndGlyphs">Heap Total - localhost:3000</text><text x="1038.7" y="429.5" font-size="12" fill="#ccccdc" text-anchor="end" stroke="#ccccdc" stroke-width="0.3" textLength="47.89" lengthAdjust="spacingAndGlyphs">204 MiB</text><text x="1111.1" y="429.5" font-size="12" fill="#ccccdc" text-anchor="end" stroke="#ccccdc" stroke-width="0.3" textLength="47.54" lengthAdjust="spacingAndGlyphs">228 MiB</text><text x="1179.1" y="429.5" font-size="12" fill="#ccccdc" text-anchor="end" stroke="#ccccdc" stroke-width="0.3" textLength="47.54" lengthAdjust="spacingAndGlyphs">282 MiB</text><text x="1246.5" y="429.5" font-size="12" fill="#ccccdc" text-anchor="end" stroke="#ccccdc" stroke-width="0.3" textLength="43.74" lengthAdjust="spacingAndGlyphs">191 MiB</text><rect x="748" y="447.65" width="14" height="4" rx="2" fill="#8ab8ff"/><text x="770" y="453.15" font-size="12" fill="#ccccdc" stroke="#ccccdc" stroke-width="0.3" textLength="162.7" lengthAdjust="spacingAndGlyphs">Heap Used - localhost:3000</text><text x="1038.7" y="453.15" font-size="12" fill="#ccccdc" text-anchor="end" stroke="#ccccdc" stroke-width="0.3" textLength="45.64" lengthAdjust="spacingAndGlyphs">196 MiB</text><text x="1111.1" y="453.15" font-size="12" fill="#ccccdc" text-anchor="end" stroke="#ccccdc" stroke-width="0.3" textLength="47.54" lengthAdjust="spacingAndGlyphs">222 MiB</text><text x="1179.1" y="453.15" font-size="12" fill="#ccccdc" text-anchor="end" stroke="#ccccdc" stroke-width="0.3" textLength="47.89" lengthAdjust="spacingAndGlyphs">250 MiB</text><text x="1246.5" y="453.15" font-size="12" fill="#ccccdc" text-anchor="end" stroke="#ccccdc" stroke-width="0.3" textLength="45.64" lengthAdjust="spacingAndGlyphs">183 MiB</text><rect x="748" y="471.35" width="14" height="4" rx="2" fill="#ff780a"/><text x="770" y="476.85" font-size="12" fill="#ccccdc" stroke="#ccccdc" stroke-width="0.3" textLength="197.3" lengthAdjust="spacingAndGlyphs">External Memory - localhost:3000</text><text x="1038.7" y="476.85" font-size="12" fill="#ccccdc" text-anchor="end" stroke="#ccccdc" stroke-width="0.3" textLength="51.14" lengthAdjust="spacingAndGlyphs">38.2 MiB</text><text x="1111.1" y="476.85" font-size="12" fill="#ccccdc" text-anchor="end" stroke="#ccccdc" stroke-width="0.3" textLength="51.14" lengthAdjust="spacingAndGlyphs">39.2 MiB</text><text x="1179.1" y="476.85" font-size="12" fill="#ccccdc" text-anchor="end" stroke="#ccccdc" stroke-width="0.3" textLength="51.14" lengthAdjust="spacingAndGlyphs">39.2 MiB</text><text x="1246.5" y="476.85" font-size="12" fill="#ccccdc" text-anchor="end" stroke="#ccccdc" stroke-width="0.3" textLength="51.14" lengthAdjust="spacingAndGlyphs">37.6 MiB</text></svg><svg class="gs" width="1247" height="258" viewBox="7 326 1247 258"><text x="67.7" y="557.9" font-size="12" fill="#ccccdc" text-anchor="end" stroke="#ccccdc" stroke-width="0.3" textLength="19.8" lengthAdjust="spacingAndGlyphs">0 B</text><text x="67.7" y="526.3" font-size="12" fill="#ccccdc" text-anchor="end" stroke="#ccccdc" stroke-width="0.3" textLength="40.34" lengthAdjust="spacingAndGlyphs">64 MiB</text><text x="67.7" y="494.7" font-size="12" fill="#ccccdc" text-anchor="end" stroke="#ccccdc" stroke-width="0.3" textLength="45.64" lengthAdjust="spacingAndGlyphs">128 MiB</text><text x="67.7" y="463.1" font-size="12" fill="#ccccdc" text-anchor="end" stroke="#ccccdc" stroke-width="0.3" textLength="45.64" lengthAdjust="spacingAndGlyphs">192 MiB</text><text x="67.7" y="431.5" font-size="12" fill="#ccccdc" text-anchor="end" stroke="#ccccdc" stroke-width="0.3" textLength="47.54" lengthAdjust="spacingAndGlyphs">256 MiB</text><text x="67.7" y="399.9" font-size="12" fill="#ccccdc" text-anchor="end" stroke="#ccccdc" stroke-width="0.3" textLength="47.89" lengthAdjust="spacingAndGlyphs">320 MiB</text><text x="119.8" y="573.5" font-size="12" fill="#ccccdc" text-anchor="middle" stroke="#ccccdc" stroke-width="0.3" textLength="32.43" lengthAdjust="spacingAndGlyphs">23:55</text><text x="174.8" y="573.5" font-size="12" fill="#ccccdc" text-anchor="middle" stroke="#ccccdc" stroke-width="0.3" textLength="33.83" lengthAdjust="spacingAndGlyphs">00:00</text><text x="229.8" y="573.5" font-size="12" fill="#ccccdc" text-anchor="middle" stroke="#ccccdc" stroke-width="0.3" textLength="33.48" lengthAdjust="spacingAndGlyphs">00:05</text><text x="284.8" y="573.5" font-size="12" fill="#ccccdc" text-anchor="middle" stroke="#ccccdc" stroke-width="0.3" textLength="31.58" lengthAdjust="spacingAndGlyphs">00:10</text><text x="339.8" y="573.5" font-size="12" fill="#ccccdc" text-anchor="middle" stroke="#ccccdc" stroke-width="0.3" textLength="31.23" lengthAdjust="spacingAndGlyphs">00:15</text><text x="393.8" y="573.5" font-size="12" fill="#ccccdc" text-anchor="middle" stroke="#ccccdc" stroke-width="0.3" textLength="33.48" lengthAdjust="spacingAndGlyphs">00:20</text><text x="448.8" y="573.5" font-size="12" fill="#ccccdc" text-anchor="middle" stroke="#ccccdc" stroke-width="0.3" textLength="33.13" lengthAdjust="spacingAndGlyphs">00:25</text><text x="503.8" y="573.5" font-size="12" fill="#ccccdc" text-anchor="middle" stroke="#ccccdc" stroke-width="0.3" textLength="33.48" lengthAdjust="spacingAndGlyphs">00:30</text><text x="558.8" y="573.5" font-size="12" fill="#ccccdc" text-anchor="middle" stroke="#ccccdc" stroke-width="0.3" textLength="33.13" lengthAdjust="spacingAndGlyphs">00:35</text><text x="613.8" y="573.5" font-size="12" fill="#ccccdc" text-anchor="middle" stroke="#ccccdc" stroke-width="0.3" textLength="33.48" lengthAdjust="spacingAndGlyphs">00:40</text><text x="668.8" y="573.5" font-size="12" fill="#ccccdc" text-anchor="middle" stroke="#ccccdc" stroke-width="0.3" textLength="33.13" lengthAdjust="spacingAndGlyphs">00:45</text><text x="722.8" y="573.5" font-size="12" fill="#ccccdc" text-anchor="middle" stroke="#ccccdc" stroke-width="0.3" textLength="33.48" lengthAdjust="spacingAndGlyphs">00:50</text></svg></div>
<div class="p" style="left:1271px;top:326px;width:624px;height:258px"><svg width="624" height="36" viewBox="1271 326 624 36"><text x="1280.4" y="348" font-size="14" fill="#ccccdc" stroke="#ccccdc" stroke-width="0.35" textLength="214" lengthAdjust="spacingAndGlyphs">Active Handlers/Requests Total</text></svg><svg class="gs" width="624" height="258" viewBox="1271 326 624 258"><g stroke="rgba(240,250,255,0.065)" stroke-width="1" shape-rendering="crispEdges"><line x1="1297" x2="1878" y1="462.5" y2="462.5"/><line x1="1297" x2="1878" y1="440.5" y2="440.5"/><line x1="1297" x2="1878" y1="417.5" y2="417.5"/><line x1="1297" x2="1878" y1="395.5" y2="395.5"/><line x1="1387.5" x2="1387.5" y1="375.3" y2="486"/><line x1="1484.5" x2="1484.5" y1="375.3" y2="486"/><line x1="1581.5" x2="1581.5" y1="375.3" y2="486"/><line x1="1678.5" x2="1678.5" y1="375.3" y2="486"/><line x1="1774.5" x2="1774.5" y1="375.3" y2="486"/><line x1="1871.5" x2="1871.5" y1="375.3" y2="486"/></g><g clip-path="url(#c6)"><clipPath id="c6"><rect x="1271" y="326" width="615" height="258"/></clipPath></g><path d="M1486.8,440.4 L1808.2,440.4 L1811.2,417.6 L1814.2,440.4 L1825.6,440.4 L1828.6,384.6 L1831.6,440.4 L1876.5,440.4 L1876.5,482.6 L1486.8,482.6 Z" fill="#73bf69" fill-opacity="0.1" stroke="none"/><path d="M1486.8,440.4 L1808.2,440.4 L1811.2,417.6 L1814.2,440.4 L1825.6,440.4 L1828.6,384.6 L1831.6,440.4 L1876.5,440.4" fill="none" stroke="#73bf69" stroke-width="1" stroke-linejoin="round"/><path d="M1486.8,473.5 L1825.6,473.5 L1828.6,462.3 L1831.6,473.5 L1876.5,473.5 L1876.5,482.6 L1486.8,482.6 Z" fill="#f2cc0c" fill-opacity="0.1" stroke="none"/><path d="M1486.8,473.5 L1825.6,473.5 L1828.6,462.3 L1831.6,473.5 L1876.5,473.5" fill="none" stroke="#f2cc0c" stroke-width="1" stroke-linejoin="round"/><text x="1310.3" y="518.2" font-size="12" fill="#6e9fff" stroke="#6e9fff" stroke-width="0.45" textLength="34.57" lengthAdjust="spacingAndGlyphs">Name</text><text x="1683.1" y="518.2" font-size="12" fill="#6e9fff" text-anchor="end" stroke="#6e9fff" stroke-width="0.45" textLength="32.42" lengthAdjust="spacingAndGlyphs">Mean</text><text x="1755.2" y="518.2" font-size="12" fill="#6e9fff" text-anchor="end" stroke="#6e9fff" stroke-width="0.45" textLength="33.14" lengthAdjust="spacingAndGlyphs">Last *</text><text x="1818.2" y="518.2" font-size="12" fill="#6e9fff" text-anchor="end" stroke="#6e9fff" stroke-width="0.45" textLength="24.48" lengthAdjust="spacingAndGlyphs">Max</text><text x="1877.6" y="518.2" font-size="12" fill="#6e9fff" text-anchor="end" stroke="#6e9fff" stroke-width="0.45" textLength="20.88" lengthAdjust="spacingAndGlyphs">Min</text><g stroke="rgba(204,204,220,0.12)" stroke-width="1" shape-rendering="crispEdges"><line x1="1280" x2="1886" y1="526.5" y2="526.5"/><line x1="1280" x2="1886" y1="550.5" y2="550.5"/><line x1="1280" x2="1886" y1="574.5" y2="574.5"/></g><rect x="1288" y="536.5" width="14" height="4" rx="2" fill="#73bf69"/><text x="1310.3" y="542" font-size="12" fill="#ccccdc" stroke="#ccccdc" stroke-width="0.3" textLength="184.2" lengthAdjust="spacingAndGlyphs">Active Handler - localhost:3000</text><text x="1683.2" y="542" font-size="12" fill="#ccccdc" text-anchor="end" stroke="#ccccdc" stroke-width="0.3" textLength="25.57" lengthAdjust="spacingAndGlyphs">4.06</text><text x="1755.3" y="542" font-size="12" fill="#ccccdc" text-anchor="end" stroke="#ccccdc" stroke-width="0.3" textLength="7.21" lengthAdjust="spacingAndGlyphs">4</text><text x="1818.3" y="542" font-size="12" fill="#ccccdc" text-anchor="end" stroke="#ccccdc" stroke-width="0.3" textLength="7.21" lengthAdjust="spacingAndGlyphs">9</text><text x="1877.7" y="542" font-size="12" fill="#ccccdc" text-anchor="end" stroke="#ccccdc" stroke-width="0.3" textLength="7.21" lengthAdjust="spacingAndGlyphs">4</text><rect x="1288" y="560.5" width="14" height="4" rx="2" fill="#f2cc0c"/><text x="1310.3" y="566" font-size="12" fill="#ccccdc" stroke="#ccccdc" stroke-width="0.3" textLength="185.8" lengthAdjust="spacingAndGlyphs">Active Request - localhost:3000</text><text x="1683.2" y="566" font-size="12" fill="#ccccdc" text-anchor="end" stroke="#ccccdc" stroke-width="0.3" textLength="21.77" lengthAdjust="spacingAndGlyphs">1.01</text><text x="1755.3" y="566" font-size="12" fill="#ccccdc" text-anchor="end" stroke="#ccccdc" stroke-width="0.3" textLength="7.21" lengthAdjust="spacingAndGlyphs">1</text><text x="1818.3" y="566" font-size="12" fill="#ccccdc" text-anchor="end" stroke="#ccccdc" stroke-width="0.3" textLength="7.21" lengthAdjust="spacingAndGlyphs">2</text><text x="1877.7" y="566" font-size="12" fill="#ccccdc" text-anchor="end" stroke="#ccccdc" stroke-width="0.3" textLength="7.21" lengthAdjust="spacingAndGlyphs">1</text></svg><svg class="gs" width="615" height="258" viewBox="1271 326 615 258"><text x="1291.6" y="465.7" font-size="12" fill="#ccccdc" text-anchor="end" stroke="#ccccdc" stroke-width="0.3" textLength="7.21" lengthAdjust="spacingAndGlyphs">2</text><text x="1291.6" y="443.4" font-size="12" fill="#ccccdc" text-anchor="end" stroke="#ccccdc" stroke-width="0.3" textLength="7.21" lengthAdjust="spacingAndGlyphs">4</text><text x="1291.6" y="421" font-size="12" fill="#ccccdc" text-anchor="end" stroke="#ccccdc" stroke-width="0.3" textLength="7.21" lengthAdjust="spacingAndGlyphs">6</text><text x="1291.6" y="398.7" font-size="12" fill="#ccccdc" text-anchor="end" stroke="#ccccdc" stroke-width="0.3" textLength="7.21" lengthAdjust="spacingAndGlyphs">8</text><text x="1386.8" y="501" font-size="12" fill="#ccccdc" text-anchor="middle" stroke="#ccccdc" stroke-width="0.3" textLength="33.83" lengthAdjust="spacingAndGlyphs">00:00</text><text x="1483.8" y="501" font-size="12" fill="#ccccdc" text-anchor="middle" stroke="#ccccdc" stroke-width="0.3" textLength="31.58" lengthAdjust="spacingAndGlyphs">00:10</text><text x="1580.8" y="501" font-size="12" fill="#ccccdc" text-anchor="middle" stroke="#ccccdc" stroke-width="0.3" textLength="33.48" lengthAdjust="spacingAndGlyphs">00:20</text><text x="1677.8" y="501" font-size="12" fill="#ccccdc" text-anchor="middle" stroke="#ccccdc" stroke-width="0.3" textLength="33.48" lengthAdjust="spacingAndGlyphs">00:30</text><text x="1773.8" y="501" font-size="12" fill="#ccccdc" text-anchor="middle" stroke="#ccccdc" stroke-width="0.3" textLength="33.48" lengthAdjust="spacingAndGlyphs">00:40</text><text x="1870.8" y="501" font-size="12" fill="#ccccdc" text-anchor="middle" stroke="#ccccdc" stroke-width="0.3" textLength="33.48" lengthAdjust="spacingAndGlyphs">00:50</text></svg></div>
<div class="p" style="left:7px;top:592px;width:624px;height:296px"><svg width="624" height="36" viewBox="7 592 624 36"><text x="16.4" y="614" font-size="14" fill="#ccccdc" stroke="#ccccdc" stroke-width="0.35" textLength="116" lengthAdjust="spacingAndGlyphs">Heap Total Detail</text></svg><svg class="gs" width="624" height="296" viewBox="7 592 624 296"><g clip-path="url(#c7)"><clipPath id="c7"><rect x="7" y="592" width="615" height="287.5"/></clipPath><g stroke="rgba(240,250,255,0.065)" stroke-width="1" shape-rendering="crispEdges"><line x1="73" x2="614" y1="771.5" y2="771.5"/><line x1="73" x2="614" y1="753.5" y2="753.5"/><line x1="73" x2="614" y1="735.5" y2="735.5"/><line x1="73" x2="614" y1="716.5" y2="716.5"/><line x1="73" x2="614" y1="698.5" y2="698.5"/><line x1="73" x2="614" y1="680.5" y2="680.5"/><line x1="73" x2="614" y1="662.5" y2="662.5"/><line x1="73" x2="614" y1="644.5" y2="644.5"/><line x1="157.5" x2="157.5" y1="641.4" y2="775"/><line x1="247.5" x2="247.5" y1="641.4" y2="775"/><line x1="337.5" x2="337.5" y1="641.4" y2="775"/><line x1="427.5" x2="427.5" y1="641.4" y2="775"/><line x1="518.5" x2="518.5" y1="641.4" y2="775"/><line x1="608.5" x2="608.5" y1="641.4" y2="775"/></g><path d="M249.4,770.5 L551,770.5 L553.5,769.4 L612.8,769.4 L612.8,771.5 L249.4,771.5 Z" fill="#73bf69" fill-opacity="0.1" stroke="none"/><path d="M249.4,770.5 L551,770.5 L553.5,769.4 L612.8,769.4" fill="none" stroke="#73bf69" stroke-width="1" stroke-linejoin="round"/><path d="M249.35,747.62 L252.96,751.23 L549.29,751.23 L551.82,750.15 L564.83,750.15 L567.36,736.78 L570.25,747.62 L612.54,747.62 L612.54,771.5 L249.35,771.5 Z" fill="#8ab8ff" fill-opacity="0.1" stroke="none"/><path d="M249.35,747.62 L252.96,751.23 L549.29,751.23 L551.82,750.15 L564.83,750.15 L567.36,736.78 L570.25,747.62 L612.54,747.62" fill="none" stroke="#8ab8ff" stroke-width="1" stroke-linejoin="round"/><path d="M249.35,753.04 L252.96,770.39 L550.02,770.39 L552.91,767.86 L555.44,766.77 L558.33,770.39 L564.83,770.39 L567.36,753.76 L569.53,753.76 L572.78,770.39 L612.54,770.39 L612.54,771.5 L249.35,771.5 Z" fill="#ff780a" fill-opacity="0.1" stroke="none"/><path d="M249.35,753.04 L252.96,770.39 L550.02,770.39 L552.91,767.86 L555.44,766.77 L558.33,770.39 L564.83,770.39 L567.36,753.76 L569.53,753.76 L572.78,770.39 L612.54,770.39" fill="none" stroke="#ff780a" stroke-width="1" stroke-linejoin="round"/><path d="M249.35,656.55 L252.96,684.02 L298.14,684.02 L299.94,682.93 L336.08,682.93 L337.89,682.21 L355.96,682.21 L357.76,681.13 L395.71,681.13 L397.52,680.4 L437.27,680.4 L439.07,679.68 L478.83,679.68 L480.63,678.6 L529.42,678.6 L531.23,677.87 L549.29,677.87 L551.82,675.34 L564.83,675.34 L567.36,665.23 L571.7,669.2 L601.69,669.2 L604.22,668.12 L612.54,668.12 L612.54,771.5 L249.35,771.5 Z" fill="#5794f2" fill-opacity="0.1" stroke="none"/><path d="M249.35,656.55 L252.96,684.02 L298.14,684.02 L299.94,682.93 L336.08,682.93 L337.89,682.21 L355.96,682.21 L357.76,681.13 L395.71,681.13 L397.52,680.4 L437.27,680.4 L439.07,679.68 L478.83,679.68 L480.63,678.6 L529.42,678.6 L531.23,677.87 L549.29,677.87 L551.82,675.34 L564.83,675.34 L567.36,665.23 L571.7,669.2 L601.69,669.2 L604.22,668.12 L612.54,668.12" fill="none" stroke="#5794f2" stroke-width="1" stroke-linejoin="round"/><path d="M249.4,771.5 L612.8,771.5" fill="none" stroke="#37872d" stroke-width="1" stroke-linejoin="round"/><text x="46.3" y="808" font-size="12" fill="#6e9fff" stroke="#6e9fff" stroke-width="0.45" textLength="34.57" lengthAdjust="spacingAndGlyphs">Name</text><text x="407.9" y="808" font-size="12" fill="#6e9fff" text-anchor="end" stroke="#6e9fff" stroke-width="0.45" textLength="32.42" lengthAdjust="spacingAndGlyphs">Mean</text><text x="480.2" y="808" font-size="12" fill="#6e9fff" text-anchor="end" stroke="#6e9fff" stroke-width="0.45" textLength="33.14" lengthAdjust="spacingAndGlyphs">Last *</text><text x="542.7" y="808" font-size="12" fill="#6e9fff" text-anchor="end" stroke="#6e9fff" stroke-width="0.45" textLength="24.48" lengthAdjust="spacingAndGlyphs">Max</text><text x="607.8" y="808" font-size="12" fill="#6e9fff" text-anchor="end" stroke="#6e9fff" stroke-width="0.45" textLength="20.88" lengthAdjust="spacingAndGlyphs">Min</text><g stroke="rgba(204,204,220,0.12)" stroke-width="1" shape-rendering="crispEdges"><line x1="16" x2="622" y1="816.5" y2="816.5"/><line x1="16" x2="622" y1="840.2" y2="840.2"/><line x1="16" x2="622" y1="863.8" y2="863.8"/><line x1="16" x2="622" y1="887.5" y2="887.5"/></g><rect x="24" y="826.35" width="14" height="4" rx="2" fill="#73bf69"/><text x="46.3" y="831.85" font-size="12" fill="#ccccdc" stroke="#ccccdc" stroke-width="0.3" textLength="203.5" lengthAdjust="spacingAndGlyphs">Heap Total - localhost:3000 - code</text><text x="408" y="831.85" font-size="12" fill="#ccccdc" text-anchor="end" stroke="#ccccdc" stroke-width="0.3" textLength="49.24" lengthAdjust="spacingAndGlyphs">2.61 MiB</text><text x="480.3" y="831.85" font-size="12" fill="#ccccdc" text-anchor="end" stroke="#ccccdc" stroke-width="0.3" textLength="51.14" lengthAdjust="spacingAndGlyphs">3.75 MiB</text><text x="547.5" y="831.85" font-size="12" fill="#ccccdc" text-anchor="end" stroke="#ccccdc" stroke-width="0.3" textLength="51.14" lengthAdjust="spacingAndGlyphs">3.75 MiB</text><text x="615.8" y="831.85" font-size="12" fill="#ccccdc" text-anchor="end" stroke="#ccccdc" stroke-width="0.3" textLength="49.24" lengthAdjust="spacingAndGlyphs">1.75 MiB</text><rect x="24" y="850" width="14" height="4" rx="2" fill="#f2cc0c"/><text x="46.3" y="855.5" font-size="12" fill="#ccccdc" stroke="#ccccdc" stroke-width="0.3" textLength="280" lengthAdjust="spacingAndGlyphs">Heap Total - localhost:3000 - code_large_object</text><text x="408" y="855.5" font-size="12" fill="#ccccdc" text-anchor="end" stroke="#ccccdc" stroke-width="0.3" textLength="48.99" lengthAdjust="spacingAndGlyphs">25.3 KiB</text><text x="480.3" y="855.5" font-size="12" fill="#ccccdc" text-anchor="end" stroke="#ccccdc" stroke-width="0.3" textLength="43.49" lengthAdjust="spacingAndGlyphs">152 KiB</text><text x="547.5" y="855.5" font-size="12" fill="#ccccdc" text-anchor="end" stroke="#ccccdc" stroke-width="0.3" textLength="43.49" lengthAdjust="spacingAndGlyphs">152 KiB</text><text x="615.8" y="855.5" font-size="12" fill="#ccccdc" text-anchor="end" stroke="#ccccdc" stroke-width="0.3" textLength="19.8" lengthAdjust="spacingAndGlyphs">0 B</text><rect x="24" y="873.65" width="14" height="4" rx="2" fill="#8ab8ff"/><text x="46.3" y="879.15" font-size="12" fill="#ccccdc" stroke="#ccccdc" stroke-width="0.3" textLength="245" lengthAdjust="spacingAndGlyphs">Heap Total - localhost:3000 - large_object</text><text x="408" y="879.15" font-size="12" fill="#ccccdc" text-anchor="end" stroke="#ccccdc" stroke-width="0.3" textLength="51.14" lengthAdjust="spacingAndGlyphs">36.5 MiB</text><text x="480.3" y="879.15" font-size="12" fill="#ccccdc" text-anchor="end" stroke="#ccccdc" stroke-width="0.3" textLength="51.14" lengthAdjust="spacingAndGlyphs">42.4 MiB</text><text x="547.5" y="879.15" font-size="12" fill="#ccccdc" text-anchor="end" stroke="#ccccdc" stroke-width="0.3" textLength="51.84" lengthAdjust="spacingAndGlyphs">60.0 MiB</text><text x="615.8" y="879.15" font-size="12" fill="#ccccdc" text-anchor="end" stroke="#ccccdc" stroke-width="0.3" textLength="51.14" lengthAdjust="spacingAndGlyphs">35.4 MiB</text></g></svg><svg class="gs" width="615" height="296" viewBox="7 592 615 296"><text x="67.6" y="774.9" font-size="12" fill="#ccccdc" text-anchor="end" stroke="#ccccdc" stroke-width="0.3" textLength="19.8" lengthAdjust="spacingAndGlyphs">0 B</text><text x="67.6" y="756.7" font-size="12" fill="#ccccdc" text-anchor="end" stroke="#ccccdc" stroke-width="0.3" textLength="40.34" lengthAdjust="spacingAndGlyphs">32 MiB</text><text x="67.6" y="738.5" font-size="12" fill="#ccccdc" text-anchor="end" stroke="#ccccdc" stroke-width="0.3" textLength="40.34" lengthAdjust="spacingAndGlyphs">64 MiB</text><text x="67.6" y="720.3" font-size="12" fill="#ccccdc" text-anchor="end" stroke="#ccccdc" stroke-width="0.3" textLength="40.34" lengthAdjust="spacingAndGlyphs">96 MiB</text><text x="67.6" y="702.1" font-size="12" fill="#ccccdc" text-anchor="end" stroke="#ccccdc" stroke-width="0.3" textLength="45.64" lengthAdjust="spacingAndGlyphs">128 MiB</text><text x="67.6" y="683.9" font-size="12" fill="#ccccdc" text-anchor="end" stroke="#ccccdc" stroke-width="0.3" textLength="45.99" lengthAdjust="spacingAndGlyphs">160 MiB</text><text x="67.6" y="665.7" font-size="12" fill="#ccccdc" text-anchor="end" stroke="#ccccdc" stroke-width="0.3" textLength="45.64" lengthAdjust="spacingAndGlyphs">192 MiB</text><text x="67.6" y="647.5" font-size="12" fill="#ccccdc" text-anchor="end" stroke="#ccccdc" stroke-width="0.3" textLength="47.54" lengthAdjust="spacingAndGlyphs">224 MiB</text><text x="156.8" y="789.6" font-size="12" fill="#ccccdc" text-anchor="middle" stroke="#ccccdc" stroke-width="0.3" textLength="33.83" lengthAdjust="spacingAndGlyphs">00:00</text><text x="246.8" y="789.6" font-size="12" fill="#ccccdc" text-anchor="middle" stroke="#ccccdc" stroke-width="0.3" textLength="31.58" lengthAdjust="spacingAndGlyphs">00:10</text><text x="336.8" y="789.6" font-size="12" fill="#ccccdc" text-anchor="middle" stroke="#ccccdc" stroke-width="0.3" textLength="33.48" lengthAdjust="spacingAndGlyphs">00:20</text><text x="426.8" y="789.6" font-size="12" fill="#ccccdc" text-anchor="middle" stroke="#ccccdc" stroke-width="0.3" textLength="33.48" lengthAdjust="spacingAndGlyphs">00:30</text><text x="517.8" y="789.6" font-size="12" fill="#ccccdc" text-anchor="middle" stroke="#ccccdc" stroke-width="0.3" textLength="33.48" lengthAdjust="spacingAndGlyphs">00:40</text><text x="607.8" y="789.6" font-size="12" fill="#ccccdc" text-anchor="middle" stroke="#ccccdc" stroke-width="0.3" textLength="33.48" lengthAdjust="spacingAndGlyphs">00:50</text></svg></div>
<div class="p" style="left:639px;top:592px;width:624px;height:296px"><svg width="624" height="36" viewBox="639 592 624 36"><text x="648.4" y="614" font-size="14" fill="#ccccdc" stroke="#ccccdc" stroke-width="0.35" textLength="117.5" lengthAdjust="spacingAndGlyphs">Heap Used Detail</text></svg><svg class="gs" width="624" height="296" viewBox="639 592 624 296"><g clip-path="url(#c8)"><clipPath id="c8"><rect x="639" y="592" width="615" height="287.5"/></clipPath><g stroke="rgba(240,250,255,0.065)" stroke-width="1" shape-rendering="crispEdges"><line x1="702" x2="1246" y1="771.5" y2="771.5"/><line x1="702" x2="1246" y1="752.5" y2="752.5"/><line x1="702" x2="1246" y1="733.5" y2="733.5"/><line x1="702" x2="1246" y1="714.5" y2="714.5"/><line x1="702" x2="1246" y1="695.5" y2="695.5"/><line x1="702" x2="1246" y1="676.5" y2="676.5"/><line x1="702" x2="1246" y1="657.5" y2="657.5"/><line x1="786.5" x2="786.5" y1="641.4" y2="775"/><line x1="877.5" x2="877.5" y1="641.4" y2="775"/><line x1="968.5" x2="968.5" y1="641.4" y2="775"/><line x1="1058.5" x2="1058.5" y1="641.4" y2="775"/><line x1="1149.5" x2="1149.5" y1="641.4" y2="775"/><line x1="1240.5" x2="1240.5" y1="641.4" y2="775"/></g><path d="M879.4,770.6 L1182,770.6 L1184.5,769.4 L1244.9,769.4 L1244.9,771.5 L879.4,771.5 Z" fill="#73bf69" fill-opacity="0.1" stroke="none"/><path d="M879.4,770.6 L1182,770.6 L1184.5,769.4 L1244.9,769.4" fill="none" stroke="#73bf69" stroke-width="1" stroke-linejoin="round"/><path d="M879.4,768.5 L881.5,771.2 L1173,771.2 L1175,770.3 L1184.5,770.3 L1187.7,769.4 L1190.5,771.2 L1197,771.2 L1199.5,769.6 L1203,771.2 L1244.9,771.2" fill="none" stroke="#ff780a" stroke-width="1" stroke-linejoin="round"/><path d="M879.4,746.5 L883,750.5 L1197,750.5 L1199.5,736 L1202,746.5 L1244.9,746.5 L1244.9,771.5 L879.4,771.5 Z" fill="#8ab8ff" fill-opacity="0.1" stroke="none"/><path d="M879.4,746.5 L883,750.5 L1197,750.5 L1199.5,736 L1202,746.5 L1244.9,746.5" fill="none" stroke="#8ab8ff" stroke-width="1" stroke-linejoin="round"/><path d="M879.35,653.66 L882.96,684.02 L893.08,684.02 L895.61,682.93 L929.94,682.93 L931.75,681.85 L964.27,681.85 L975.12,680.4 L1013.06,680.4 L1016.67,679.32 L1049.2,679.32 L1052.81,678.24 L1092.56,678.24 L1096.18,677.15 L1130.51,677.15 L1134.12,676.07 L1172.07,676.07 L1175.68,674.98 L1180.38,674.98 L1182.91,681.85 L1186.52,680.4 L1196.64,680.4 L1199.17,664.5 L1201.7,668.48 L1211.82,668.48 L1215.43,667.39 L1244.34,667.39 L1244.34,771.5 L879.35,771.5 Z" fill="#5794f2" fill-opacity="0.1" stroke="none"/><path d="M879.35,653.66 L882.96,684.02 L893.08,684.02 L895.61,682.93 L929.94,682.93 L931.75,681.85 L964.27,681.85 L975.12,680.4 L1013.06,680.4 L1016.67,679.32 L1049.2,679.32 L1052.81,678.24 L1092.56,678.24 L1096.18,677.15 L1130.51,677.15 L1134.12,676.07 L1172.07,676.07 L1175.68,674.98 L1180.38,674.98 L1182.91,681.85 L1186.52,680.4 L1196.64,680.4 L1199.17,664.5 L1201.7,668.48 L1211.82,668.48 L1215.43,667.39 L1244.34,667.39" fill="none" stroke="#5794f2" stroke-width="1" stroke-linejoin="round"/><path d="M879.4,771.5 L1244.9,771.5" fill="none" stroke="#37872d" stroke-width="1" stroke-linejoin="round"/><text x="678.1" y="808" font-size="12" fill="#6e9fff" stroke="#6e9fff" stroke-width="0.45" textLength="34.57" lengthAdjust="spacingAndGlyphs">Name</text><text x="1041.5" y="808" font-size="12" fill="#6e9fff" text-anchor="end" stroke="#6e9fff" stroke-width="0.45" textLength="32.42" lengthAdjust="spacingAndGlyphs">Mean</text><text x="1113.8" y="808" font-size="12" fill="#6e9fff" text-anchor="end" stroke="#6e9fff" stroke-width="0.45" textLength="33.14" lengthAdjust="spacingAndGlyphs">Last *</text><text x="1177" y="808" font-size="12" fill="#6e9fff" text-anchor="end" stroke="#6e9fff" stroke-width="0.45" textLength="24.48" lengthAdjust="spacingAndGlyphs">Max</text><text x="1241.4" y="808" font-size="12" fill="#6e9fff" text-anchor="end" stroke="#6e9fff" stroke-width="0.45" textLength="20.88" lengthAdjust="spacingAndGlyphs">Min</text><g stroke="rgba(204,204,220,0.12)" stroke-width="1" shape-rendering="crispEdges"><line x1="648" x2="1254" y1="816.5" y2="816.5"/><line x1="648" x2="1254" y1="840.2" y2="840.2"/><line x1="648" x2="1254" y1="863.8" y2="863.8"/><line x1="648" x2="1254" y1="887.5" y2="887.5"/></g><rect x="656" y="826.35" width="14" height="4" rx="2" fill="#73bf69"/><text x="678.1" y="831.85" font-size="12" fill="#ccccdc" stroke="#ccccdc" stroke-width="0.3" textLength="204.6" lengthAdjust="spacingAndGlyphs">Heap Used - localhost:3000 - code</text><text x="1041.6" y="831.85" font-size="12" fill="#ccccdc" text-anchor="end" stroke="#ccccdc" stroke-width="0.3" textLength="51.14" lengthAdjust="spacingAndGlyphs">2.22 MiB</text><text x="1113.9" y="831.85" font-size="12" fill="#ccccdc" text-anchor="end" stroke="#ccccdc" stroke-width="0.3" textLength="49.24" lengthAdjust="spacingAndGlyphs">3.19 MiB</text><text x="1181.8" y="831.85" font-size="12" fill="#ccccdc" text-anchor="end" stroke="#ccccdc" stroke-width="0.3" textLength="51.14" lengthAdjust="spacingAndGlyphs">3.23 MiB</text><text x="1249.1" y="831.85" font-size="12" fill="#ccccdc" text-anchor="end" stroke="#ccccdc" stroke-width="0.3" textLength="49.24" lengthAdjust="spacingAndGlyphs">1.38 MiB</text><rect x="656" y="850" width="14" height="4" rx="2" fill="#f2cc0c"/><text x="678.1" y="855.5" font-size="12" fill="#ccccdc" stroke="#ccccdc" stroke-width="0.3" textLength="281.5" lengthAdjust="spacingAndGlyphs">Heap Used - localhost:3000 - code_large_object</text><text x="1041.6" y="855.5" font-size="12" fill="#ccccdc" text-anchor="end" stroke="#ccccdc" stroke-width="0.3" textLength="48.99" lengthAdjust="spacingAndGlyphs">22.5 KiB</text><text x="1113.9" y="855.5" font-size="12" fill="#ccccdc" text-anchor="end" stroke="#ccccdc" stroke-width="0.3" textLength="43.49" lengthAdjust="spacingAndGlyphs">135 KiB</text><text x="1181.8" y="855.5" font-size="12" fill="#ccccdc" text-anchor="end" stroke="#ccccdc" stroke-width="0.3" textLength="43.49" lengthAdjust="spacingAndGlyphs">135 KiB</text><text x="1249.1" y="855.5" font-size="12" fill="#ccccdc" text-anchor="end" stroke="#ccccdc" stroke-width="0.3" textLength="19.8" lengthAdjust="spacingAndGlyphs">0 B</text><rect x="656" y="873.65" width="14" height="4" rx="2" fill="#8ab8ff"/><text x="678.1" y="879.15" font-size="12" fill="#ccccdc" stroke="#ccccdc" stroke-width="0.3" textLength="246.8" lengthAdjust="spacingAndGlyphs">Heap Used - localhost:3000 - large_object</text><text x="1041.6" y="879.15" font-size="12" fill="#ccccdc" text-anchor="end" stroke="#ccccdc" stroke-width="0.3" textLength="49.24" lengthAdjust="spacingAndGlyphs">36.1 MiB</text><text x="1113.9" y="879.15" font-size="12" fill="#ccccdc" text-anchor="end" stroke="#ccccdc" stroke-width="0.3" textLength="51.49" lengthAdjust="spacingAndGlyphs">42.0 MiB</text><text x="1181.8" y="879.15" font-size="12" fill="#ccccdc" text-anchor="end" stroke="#ccccdc" stroke-width="0.3" textLength="51.14" lengthAdjust="spacingAndGlyphs">59.5 MiB</text><text x="1249.1" y="879.15" font-size="12" fill="#ccccdc" text-anchor="end" stroke="#ccccdc" stroke-width="0.3" textLength="51.49" lengthAdjust="spacingAndGlyphs">35.0 MiB</text></g></svg><svg class="gs" width="615" height="296" viewBox="639 592 615 296"><text x="696.9" y="774.9" font-size="12" fill="#ccccdc" text-anchor="end" stroke="#ccccdc" stroke-width="0.3" textLength="19.8" lengthAdjust="spacingAndGlyphs">0 B</text><text x="696.9" y="755.9" font-size="12" fill="#ccccdc" text-anchor="end" stroke="#ccccdc" stroke-width="0.3" textLength="40.34" lengthAdjust="spacingAndGlyphs">32 MiB</text><text x="696.9" y="736.9" font-size="12" fill="#ccccdc" text-anchor="end" stroke="#ccccdc" stroke-width="0.3" textLength="40.34" lengthAdjust="spacingAndGlyphs">64 MiB</text><text x="696.9" y="717.9" font-size="12" fill="#ccccdc" text-anchor="end" stroke="#ccccdc" stroke-width="0.3" textLength="40.34" lengthAdjust="spacingAndGlyphs">96 MiB</text><text x="696.9" y="698.9" font-size="12" fill="#ccccdc" text-anchor="end" stroke="#ccccdc" stroke-width="0.3" textLength="45.64" lengthAdjust="spacingAndGlyphs">128 MiB</text><text x="696.9" y="679.9" font-size="12" fill="#ccccdc" text-anchor="end" stroke="#ccccdc" stroke-width="0.3" textLength="45.99" lengthAdjust="spacingAndGlyphs">160 MiB</text><text x="696.9" y="660.9" font-size="12" fill="#ccccdc" text-anchor="end" stroke="#ccccdc" stroke-width="0.3" textLength="45.64" lengthAdjust="spacingAndGlyphs">192 MiB</text><text x="785.8" y="789.6" font-size="12" fill="#ccccdc" text-anchor="middle" stroke="#ccccdc" stroke-width="0.3" textLength="33.83" lengthAdjust="spacingAndGlyphs">00:00</text><text x="876.8" y="789.6" font-size="12" fill="#ccccdc" text-anchor="middle" stroke="#ccccdc" stroke-width="0.3" textLength="31.58" lengthAdjust="spacingAndGlyphs">00:10</text><text x="967.8" y="789.6" font-size="12" fill="#ccccdc" text-anchor="middle" stroke="#ccccdc" stroke-width="0.3" textLength="33.48" lengthAdjust="spacingAndGlyphs">00:20</text><text x="1057.8" y="789.6" font-size="12" fill="#ccccdc" text-anchor="middle" stroke="#ccccdc" stroke-width="0.3" textLength="33.48" lengthAdjust="spacingAndGlyphs">00:30</text><text x="1148.8" y="789.6" font-size="12" fill="#ccccdc" text-anchor="middle" stroke="#ccccdc" stroke-width="0.3" textLength="33.48" lengthAdjust="spacingAndGlyphs">00:40</text><text x="1239.8" y="789.6" font-size="12" fill="#ccccdc" text-anchor="middle" stroke="#ccccdc" stroke-width="0.3" textLength="33.48" lengthAdjust="spacingAndGlyphs">00:50</text></svg></div>
<div class="p" style="left:1271px;top:592px;width:624px;height:296px"><svg width="624" height="36" viewBox="1271 592 624 36"><text x="1280.4" y="614" font-size="14" fill="#ccccdc" stroke="#ccccdc" stroke-width="0.35" textLength="143.8" lengthAdjust="spacingAndGlyphs">Heap Available Detail</text></svg><svg class="gs" width="624" height="296" viewBox="1271 592 624 296"><g clip-path="url(#c9)"><clipPath id="c9"><rect x="1271" y="592" width="615" height="287.5"/></clipPath><g stroke="rgba(240,250,255,0.065)" stroke-width="1" shape-rendering="crispEdges"><line x1="1327" x2="1878" y1="771.5" y2="771.5"/><line x1="1327" x2="1878" y1="742.5" y2="742.5"/><line x1="1327" x2="1878" y1="714.5" y2="714.5"/><line x1="1327" x2="1878" y1="685.5" y2="685.5"/><line x1="1327" x2="1878" y1="656.5" y2="656.5"/><line x1="1412.5" x2="1412.5" y1="641.4" y2="775"/><line x1="1504.5" x2="1504.5" y1="641.4" y2="775"/><line x1="1596.5" x2="1596.5" y1="641.4" y2="775"/><line x1="1688.5" x2="1688.5" y1="641.4" y2="775"/><line x1="1780.5" x2="1780.5" y1="641.4" y2="775"/><line x1="1872.5" x2="1872.5" y1="641.4" y2="775"/></g><path d="M1507.54,771.16 L1509.52,769.63 L1689.91,769.63 L1690,769.63 L1876.5,769.63 L1876.5,771.5 L1507.54,771.5 Z" fill="#73bf69" fill-opacity="0.1" stroke="none"/><path d="M1507.54,771.16 L1509.52,769.63 L1689.91,769.63 L1690,769.63 L1876.5,769.63" fill="none" stroke="#73bf69" stroke-width="1" stroke-linejoin="round"/><path d="M1507.23,713.38 L1509.52,765.81 L1513.34,770.7 L1517.17,765.81 L1520.99,770.7 L1524.81,765.81 L1528.63,770.7 L1532.45,765.81 L1536.28,770.7 L1540.1,765.81 L1543.92,770.7 L1547.74,765.81 L1551.56,770.7 L1555.38,765.81 L1559.21,770.7 L1563.03,765.81 L1566.85,770.7 L1570.67,765.81 L1574.49,770.7 L1578.31,765.81 L1582.14,770.7 L1585.96,765.81 L1589.78,770.7 L1593.6,765.81 L1597.42,770.7 L1601.25,765.81 L1605.07,770.7 L1608.89,765.81 L1612.71,770.7 L1616.53,765.81 L1620.35,770.7 L1624.18,765.81 L1628,770.7 L1631.82,765.81 L1635.64,770.7 L1639.46,765.81 L1643.28,770.7 L1647.11,765.81 L1650.93,770.7 L1654.75,765.81 L1658.57,770.7 L1662.39,765.81 L1666.22,770.7 L1670.04,765.81 L1673.86,770.7 L1677.68,765.81 L1681.5,770.7 L1685.32,765.81 L1689.15,770.7 L1691.22,765.81 L1695.5,770.7 L1699.78,765.81 L1704.06,770.7 L1708.34,765.81 L1712.62,770.7 L1716.91,765.81 L1721.19,770.7 L1725.47,765.81 L1729.75,770.7 L1734.03,765.81 L1738.31,770.7 L1742.59,765.81 L1746.87,770.7 L1751.15,765.81 L1755.43,770.7 L1759.71,765.81 L1763.99,770.7 L1768.27,765.81 L1772.55,770.7 L1776.83,765.81 L1781.11,770.7 L1785.39,765.81 L1789.67,770.7 L1793.95,765.81 L1798.23,770.7 L1802.51,765.81 L1806.79,770.7 L1811.07,765.81 L1812.3,769.94 L1814.13,769.94 L1816.58,750.07 L1819.94,765.35 L1823,770.7 L1827.58,765.35 L1829.42,765.35 L1832.93,666.75 L1835.23,731.72 L1836.3,765.66 L1876.5,765.66 L1876.5,771.5 L1507.23,771.5 Z" fill="#ff780a" fill-opacity="0.1" stroke="none"/><path d="M1507.23,713.38 L1509.52,765.81 L1513.34,770.7 L1517.17,765.81 L1520.99,770.7 L1524.81,765.81 L1528.63,770.7 L1532.45,765.81 L1536.28,770.7 L1540.1,765.81 L1543.92,770.7 L1547.74,765.81 L1551.56,770.7 L1555.38,765.81 L1559.21,770.7 L1563.03,765.81 L1566.85,770.7 L1570.67,765.81 L1574.49,770.7 L1578.31,765.81 L1582.14,770.7 L1585.96,765.81 L1589.78,770.7 L1593.6,765.81 L1597.42,770.7 L1601.25,765.81 L1605.07,770.7 L1608.89,765.81 L1612.71,770.7 L1616.53,765.81 L1620.35,770.7 L1624.18,765.81 L1628,770.7 L1631.82,765.81 L1635.64,770.7 L1639.46,765.81 L1643.28,770.7 L1647.11,765.81 L1650.93,770.7 L1654.75,765.81 L1658.57,770.7 L1662.39,765.81 L1666.22,770.7 L1670.04,765.81 L1673.86,770.7 L1677.68,765.81 L1681.5,770.7 L1685.32,765.81 L1689.15,770.7 L1691.22,765.81 L1695.5,770.7 L1699.78,765.81 L1704.06,770.7 L1708.34,765.81 L1712.62,770.7 L1716.91,765.81 L1721.19,770.7 L1725.47,765.81 L1729.75,770.7 L1734.03,765.81 L1738.31,770.7 L1742.59,765.81 L1746.87,770.7 L1751.15,765.81 L1755.43,770.7 L1759.71,765.81 L1763.99,770.7 L1768.27,765.81 L1772.55,770.7 L1776.83,765.81 L1781.11,770.7 L1785.39,765.81 L1789.67,770.7 L1793.95,765.81 L1798.23,770.7 L1802.51,765.81 L1806.79,770.7 L1811.07,765.81 L1812.3,769.94 L1814.13,769.94 L1816.58,750.07 L1819.94,765.35 L1823,770.7 L1827.58,765.35 L1829.42,765.35 L1832.93,666.75 L1835.23,731.72 L1836.3,765.66 L1876.5,765.66" fill="none" stroke="#ff780a" stroke-width="1" stroke-linejoin="round"/><path d="M1507.23,659.11 L1509.52,764.59 L1591.31,764.59 L1594.37,762.3 L1597.12,764.59 L1689.91,764.59 L1690,764.59 L1814.13,764.59 L1816.58,742.42 L1819.63,742.42 L1821.77,764.59 L1827.58,764.59 L1830.34,656.36 L1833.7,656.36 L1835.99,764.59 L1876.5,764.59 L1876.5,771.5 L1507.23,771.5 Z" fill="#f2495c" fill-opacity="0.1" stroke="none"/><path d="M1507.23,659.11 L1509.52,764.59 L1591.31,764.59 L1594.37,762.3 L1597.12,764.59 L1689.91,764.59 L1690,764.59 L1814.13,764.59 L1816.58,742.42 L1819.63,742.42 L1821.77,764.59 L1827.58,764.59 L1830.34,656.36 L1833.7,656.36 L1835.99,764.59 L1876.5,764.59" fill="none" stroke="#f2495c" stroke-width="1" stroke-linejoin="round"/><path d="M1507.54,766.88 L1509.83,748.54 L1517.93,753.12 L1520.22,751.29 L1525.57,752.67 L1533.22,754.96 L1543.92,757.4 L1547.74,756.49 L1556.15,757.71 L1559.21,758.48 L1563.03,757.4 L1571.44,759.24 L1574.49,758.32 L1580.61,758.63 L1587.49,760.46 L1590.54,758.17 L1594.67,758.17 L1597.12,762.3 L1602.01,762.6 L1606.6,762.3 L1611.18,763.06 L1615.77,762.3 L1621.12,764.13 L1628,761.53 L1632.58,762.3 L1637.17,762.6 L1640.23,764.13 L1642.06,762.3 L1644.05,764.13 L1647.87,763.37 L1653.99,764.13 L1657.04,763.37 L1663.16,764.44 L1666.22,763.37 L1670.8,764.13 L1676.92,762.3 L1681.5,763.06 L1686.85,762.3 L1689.15,763.21 L1690,763.06 L1694.59,761.99 L1697.64,763.83 L1701.47,763.06 L1708.34,765.05 L1717.52,764.13 L1723.63,766.12 L1726.69,764.59 L1731.28,765.35 L1740.45,763.06 L1743.5,763.06 L1751.15,765.66 L1755.73,766.12 L1759.56,763.52 L1763.38,764.59 L1772.55,766.12 L1780.19,764.59 L1787.84,766.12 L1797.01,766.12 L1804.65,767.19 L1809.24,766.12 L1812.3,766.12 L1813.06,716.44 L1814.59,669.05 L1816.58,685.1 L1819.94,685.56 L1822.23,688.15 L1826.06,688.92 L1828.65,690.45 L1829.88,757.71 L1832.93,766.12 L1835.99,759.55 L1842.87,761.53 L1845.93,760.46 L1852.81,762.3 L1855.87,759.24 L1858.92,759.24 L1865.04,761.53 L1868.86,760.46 L1872.68,761.53 L1876.5,763.06 L1876.5,771.5 L1507.54,771.5 Z" fill="#5794f2" fill-opacity="0.1" stroke="none"/><path d="M1507.54,766.88 L1509.83,748.54 L1517.93,753.12 L1520.22,751.29 L1525.57,752.67 L1533.22,754.96 L1543.92,757.4 L1547.74,756.49 L1556.15,757.71 L1559.21,758.48 L1563.03,757.4 L1571.44,759.24 L1574.49,758.32 L1580.61,758.63 L1587.49,760.46 L1590.54,758.17 L1594.67,758.17 L1597.12,762.3 L1602.01,762.6 L1606.6,762.3 L1611.18,763.06 L1615.77,762.3 L1621.12,764.13 L1628,761.53 L1632.58,762.3 L1637.17,762.6 L1640.23,764.13 L1642.06,762.3 L1644.05,764.13 L1647.87,763.37 L1653.99,764.13 L1657.04,763.37 L1663.16,764.44 L1666.22,763.37 L1670.8,764.13 L1676.92,762.3 L1681.5,763.06 L1686.85,762.3 L1689.15,763.21 L1690,763.06 L1694.59,761.99 L1697.64,763.83 L1701.47,763.06 L1708.34,765.05 L1717.52,764.13 L1723.63,766.12 L1726.69,764.59 L1731.28,765.35 L1740.45,763.06 L1743.5,763.06 L1751.15,765.66 L1755.73,766.12 L1759.56,763.52 L1763.38,764.59 L1772.55,766.12 L1780.19,764.59 L1787.84,766.12 L1797.01,766.12 L1804.65,767.19 L1809.24,766.12 L1812.3,766.12 L1813.06,716.44 L1814.59,669.05 L1816.58,685.1 L1819.94,685.56 L1822.23,688.15 L1826.06,688.92 L1828.65,690.45 L1829.88,757.71 L1832.93,766.12 L1835.99,759.55 L1842.87,761.53 L1845.93,760.46 L1852.81,762.3 L1855.87,759.24 L1858.92,759.24 L1865.04,761.53 L1868.86,760.46 L1872.68,761.53 L1876.5,763.06" fill="none" stroke="#5794f2" stroke-width="1" stroke-linejoin="round"/><path d="M1507.54,771.16 L1509.52,770.86 L1689.91,770.86 L1690,770.86 L1876.5,771.01" fill="none" stroke="#37872d" stroke-width="1" stroke-linejoin="round"/><text x="1310.1" y="808" font-size="12" fill="#6e9fff" stroke="#6e9fff" stroke-width="0.45" textLength="34.57" lengthAdjust="spacingAndGlyphs">Name</text><text x="1675.7" y="808" font-size="12" fill="#6e9fff" text-anchor="end" stroke="#6e9fff" stroke-width="0.45" textLength="32.42" lengthAdjust="spacingAndGlyphs">Mean</text><text x="1748" y="808" font-size="12" fill="#6e9fff" text-anchor="end" stroke="#6e9fff" stroke-width="0.45" textLength="33.14" lengthAdjust="spacingAndGlyphs">Last *</text><text x="1811.2" y="808" font-size="12" fill="#6e9fff" text-anchor="end" stroke="#6e9fff" stroke-width="0.45" textLength="24.48" lengthAdjust="spacingAndGlyphs">Max</text><text x="1873.4" y="808" font-size="12" fill="#6e9fff" text-anchor="end" stroke="#6e9fff" stroke-width="0.45" textLength="20.88" lengthAdjust="spacingAndGlyphs">Min</text><g stroke="rgba(204,204,220,0.12)" stroke-width="1" shape-rendering="crispEdges"><line x1="1280" x2="1886" y1="816.5" y2="816.5"/><line x1="1280" x2="1886" y1="840.2" y2="840.2"/><line x1="1280" x2="1886" y1="863.8" y2="863.8"/><line x1="1280" x2="1886" y1="887.5" y2="887.5"/></g><rect x="1288" y="826.35" width="14" height="4" rx="2" fill="#73bf69"/><text x="1310.1" y="831.85" font-size="12" fill="#ccccdc" stroke="#ccccdc" stroke-width="0.3" textLength="204.6" lengthAdjust="spacingAndGlyphs">Heap Used - localhost:3000 - code</text><text x="1675.8" y="831.85" font-size="12" fill="#ccccdc" text-anchor="end" stroke="#ccccdc" stroke-width="0.3" textLength="45.39" lengthAdjust="spacingAndGlyphs">228 KiB</text><text x="1748.1" y="831.85" font-size="12" fill="#ccccdc" text-anchor="end" stroke="#ccccdc" stroke-width="0.3" textLength="45.39" lengthAdjust="spacingAndGlyphs">332 KiB</text><text x="1813.5" y="831.85" font-size="12" fill="#ccccdc" text-anchor="end" stroke="#ccccdc" stroke-width="0.3" textLength="45.74" lengthAdjust="spacingAndGlyphs">409 KiB</text><text x="1878.2" y="831.85" font-size="12" fill="#ccccdc" text-anchor="end" stroke="#ccccdc" stroke-width="0.3" textLength="48.99" lengthAdjust="spacingAndGlyphs">84.3 KiB</text><rect x="1288" y="850" width="14" height="4" rx="2" fill="#f2cc0c"/><text x="1310.1" y="855.5" font-size="12" fill="#ccccdc" stroke="#ccccdc" stroke-width="0.3" textLength="281.5" lengthAdjust="spacingAndGlyphs">Heap Used - localhost:3000 - code_large_object</text><text x="1675.8" y="855.5" font-size="12" fill="#ccccdc" text-anchor="end" stroke="#ccccdc" stroke-width="0.3" textLength="19.8" lengthAdjust="spacingAndGlyphs">0 B</text><text x="1748.1" y="855.5" font-size="12" fill="#ccccdc" text-anchor="end" stroke="#ccccdc" stroke-width="0.3" textLength="19.8" lengthAdjust="spacingAndGlyphs">0 B</text><text x="1813.5" y="855.5" font-size="12" fill="#ccccdc" text-anchor="end" stroke="#ccccdc" stroke-width="0.3" textLength="19.8" lengthAdjust="spacingAndGlyphs">0 B</text><text x="1878.2" y="855.5" font-size="12" fill="#ccccdc" text-anchor="end" stroke="#ccccdc" stroke-width="0.3" textLength="19.8" lengthAdjust="spacingAndGlyphs">0 B</text><rect x="1288" y="873.65" width="14" height="4" rx="2" fill="#8ab8ff"/><text x="1310.1" y="879.15" font-size="12" fill="#ccccdc" stroke="#ccccdc" stroke-width="0.3" textLength="246.8" lengthAdjust="spacingAndGlyphs">Heap Used - localhost:3000 - large_object</text><text x="1675.8" y="879.15" font-size="12" fill="#ccccdc" text-anchor="end" stroke="#ccccdc" stroke-width="0.3" textLength="19.8" lengthAdjust="spacingAndGlyphs">0 B</text><text x="1748.1" y="879.15" font-size="12" fill="#ccccdc" text-anchor="end" stroke="#ccccdc" stroke-width="0.3" textLength="19.8" lengthAdjust="spacingAndGlyphs">0 B</text><text x="1813.5" y="879.15" font-size="12" fill="#ccccdc" text-anchor="end" stroke="#ccccdc" stroke-width="0.3" textLength="19.8" lengthAdjust="spacingAndGlyphs">0 B</text><text x="1878.2" y="879.15" font-size="12" fill="#ccccdc" text-anchor="end" stroke="#ccccdc" stroke-width="0.3" textLength="19.8" lengthAdjust="spacingAndGlyphs">0 B</text></g></svg><svg class="gs" width="615" height="296" viewBox="1271 592 615 296"><text x="1321.6" y="774.9" font-size="12" fill="#ccccdc" text-anchor="end" stroke="#ccccdc" stroke-width="0.3" textLength="19.8" lengthAdjust="spacingAndGlyphs">0 B</text><text x="1321.6" y="746.15" font-size="12" fill="#ccccdc" text-anchor="end" stroke="#ccccdc" stroke-width="0.3" textLength="33.13" lengthAdjust="spacingAndGlyphs">4 MiB</text><text x="1321.6" y="717.4" font-size="12" fill="#ccccdc" text-anchor="end" stroke="#ccccdc" stroke-width="0.3" textLength="33.13" lengthAdjust="spacingAndGlyphs">8 MiB</text><text x="1321.6" y="688.65" font-size="12" fill="#ccccdc" text-anchor="end" stroke="#ccccdc" stroke-width="0.3" textLength="38.44" lengthAdjust="spacingAndGlyphs">12 MiB</text><text x="1321.6" y="659.9" font-size="12" fill="#ccccdc" text-anchor="end" stroke="#ccccdc" stroke-width="0.3" textLength="38.44" lengthAdjust="spacingAndGlyphs">16 MiB</text><text x="1411.8" y="789.6" font-size="12" fill="#ccccdc" text-anchor="middle" stroke="#ccccdc" stroke-width="0.3" textLength="33.83" lengthAdjust="spacingAndGlyphs">00:00</text><text x="1503.8" y="789.6" font-size="12" fill="#ccccdc" text-anchor="middle" stroke="#ccccdc" stroke-width="0.3" textLength="31.58" lengthAdjust="spacingAndGlyphs">00:10</text><text x="1595.8" y="789.6" font-size="12" fill="#ccccdc" text-anchor="middle" stroke="#ccccdc" stroke-width="0.3" textLength="33.48" lengthAdjust="spacingAndGlyphs">00:20</text><text x="1687.8" y="789.6" font-size="12" fill="#ccccdc" text-anchor="middle" stroke="#ccccdc" stroke-width="0.3" textLength="33.48" lengthAdjust="spacingAndGlyphs">00:30</text><text x="1779.8" y="789.6" font-size="12" fill="#ccccdc" text-anchor="middle" stroke="#ccccdc" stroke-width="0.3" textLength="33.48" lengthAdjust="spacingAndGlyphs">00:40</text><text x="1871.8" y="789.6" font-size="12" fill="#ccccdc" text-anchor="middle" stroke="#ccccdc" stroke-width="0.3" textLength="33.48" lengthAdjust="spacingAndGlyphs">00:50</text></svg></div>
<svg class="ov gs" style="left:700px;top:200px" width="260" height="110" viewBox="700 200 260 110"><defs><filter id="sh" x="-10%" y="-20%" width="120%" height="150%"><feGaussianBlur stdDeviation="3"/></filter></defs><rect x="716" y="213" width="232" height="86" rx="2" fill="#000" fill-opacity="0.55" filter="url(#sh)"/><rect x="715.5" y="209.5" width="233" height="86" rx="2" fill="#1d2025" stroke="#2e3136"/><line x1="716" x2="948" y1="238.5" y2="238.5" stroke="#2e3136" shape-rendering="crispEdges"/><text x="724" y="228" font-size="12" fill="#ccccdc" stroke="#ccccdc" stroke-width="0.35" textLength="123" lengthAdjust="spacingAndGlyphs">2024-11-08 00:45:15</text><rect x="724" y="254" width="14" height="4" rx="2" fill="#73bf69"/><rect x="724" y="275" width="14" height="4" rx="2" fill="#f2cc0c"/><text x="746" y="259.7" font-size="12" fill="#ffffff" font-weight="700" textLength="158" lengthAdjust="spacingAndGlyphs">User CPU - localhost:3000</text><text x="939" y="259.7" font-size="12" fill="#ccccdc" text-anchor="end" stroke="#ccccdc" stroke-width="0.35" textLength="20" lengthAdjust="spacingAndGlyphs">0%</text><text x="746" y="280.7" font-size="12" fill="#8e8f9b" stroke="#8e8f9b" stroke-width="0.3" textLength="149" lengthAdjust="spacingAndGlyphs">Sys CPU - localhost:3000</text><text x="939" y="280.7" font-size="12" fill="#ccccdc" text-anchor="end" stroke="#ccccdc" stroke-width="0.35" textLength="20" lengthAdjust="spacingAndGlyphs">0%</text></svg>
</body></html>
